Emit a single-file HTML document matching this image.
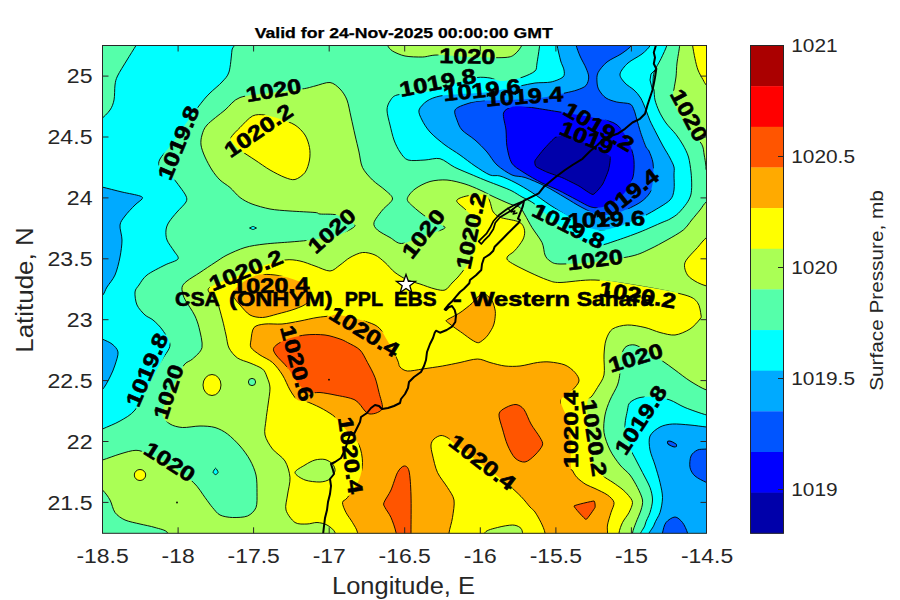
<!DOCTYPE html>
<html><head><meta charset="utf-8"><title>Surface Pressure</title>
<style>
html,body{margin:0;padding:0;background:#fff;}
body{width:900px;height:600px;overflow:hidden;font-family:"Liberation Sans",sans-serif;}
svg{display:block;font-family:"Liberation Sans",sans-serif;}
.cf path,.cf ellipse{stroke:#000;stroke-width:0.9;stroke-linejoin:round;fill:none;}
.lb text{font-weight:bold;font-size:21px;fill:#000;stroke:#000;stroke-width:0.6;}
.tk text{font-size:20px;fill:#262626;}
</style></head><body>
<svg width="900" height="600" viewBox="0 0 900 600">
<rect width="900" height="600" fill="#fff"/>
<defs><mask id="lm" maskUnits="userSpaceOnUse" x="0" y="0" width="900" height="600"><rect width="900" height="600" fill="#fff"/><rect transform="translate(179.0 143.0) rotate(-67.6)" x="-39.8" y="-10" width="79.5" height="20" fill="#000"/><rect transform="translate(273.5 90.8) rotate(-10)" x="-28.9" y="-10" width="57.8" height="20" fill="#000"/><rect transform="translate(258.8 131.0) rotate(-34.5)" x="-39.8" y="-10" width="79.5" height="20" fill="#000"/><rect transform="translate(467.3 56.8) rotate(1)" x="-28.9" y="-10" width="57.8" height="20" fill="#000"/><rect transform="translate(437.7 83.0) rotate(-11)" x="-39.8" y="-10" width="79.5" height="20" fill="#000"/><rect transform="translate(482.0 90.6) rotate(-6)" x="-39.8" y="-10" width="79.5" height="20" fill="#000"/><rect transform="translate(524.4 97.0) rotate(-4)" x="-39.8" y="-10" width="79.5" height="20" fill="#000"/><rect transform="translate(598.7 127.3) rotate(30.5)" x="-39.8" y="-10" width="79.5" height="20" fill="#000"/><rect transform="translate(586.5 138.3) rotate(22.4)" x="-28.9" y="-10" width="57.8" height="20" fill="#000"/><rect transform="translate(688.5 115.5) rotate(62)" x="-28.9" y="-10" width="57.8" height="20" fill="#000"/><rect transform="translate(626.0 197.5) rotate(-38.5)" x="-39.8" y="-10" width="79.5" height="20" fill="#000"/><rect transform="translate(606.4 220.0) rotate(-2)" x="-39.8" y="-10" width="79.5" height="20" fill="#000"/><rect transform="translate(568.2 226.5) rotate(26.5)" x="-39.8" y="-10" width="79.5" height="20" fill="#000"/><rect transform="translate(595.0 260.3) rotate(-7)" x="-28.9" y="-10" width="57.8" height="20" fill="#000"/><rect transform="translate(637.6 295.5) rotate(9.5)" x="-39.8" y="-10" width="79.5" height="20" fill="#000"/><rect transform="translate(332.2 231.2) rotate(-41.5)" x="-28.9" y="-10" width="57.8" height="20" fill="#000"/><rect transform="translate(423.8 234.2) rotate(-52)" x="-28.9" y="-10" width="57.8" height="20" fill="#000"/><rect transform="translate(471.5 231.0) rotate(-78)" x="-39.8" y="-10" width="79.5" height="20" fill="#000"/><rect transform="translate(246.1 270.8) rotate(-22)" x="-39.8" y="-10" width="79.5" height="20" fill="#000"/><rect transform="translate(270.8 286.0) rotate(-1)" x="-39.8" y="-10" width="79.5" height="20" fill="#000"/><rect transform="translate(364.2 332.3) rotate(31.5)" x="-39.8" y="-10" width="79.5" height="20" fill="#000"/><rect transform="translate(296.5 363.5) rotate(75)" x="-39.8" y="-10" width="79.5" height="20" fill="#000"/><rect transform="translate(147.5 370.0) rotate(-67)" x="-39.8" y="-10" width="79.5" height="20" fill="#000"/><rect transform="translate(169.0 392.0) rotate(-72)" x="-28.9" y="-10" width="57.8" height="20" fill="#000"/><rect transform="translate(169.3 462.3) rotate(32.5)" x="-28.9" y="-10" width="57.8" height="20" fill="#000"/><rect transform="translate(350.0 455.5) rotate(82)" x="-39.8" y="-10" width="79.5" height="20" fill="#000"/><rect transform="translate(482.1 462.8) rotate(37.3)" x="-39.8" y="-10" width="79.5" height="20" fill="#000"/><rect transform="translate(571.0 429.3) rotate(-90)" x="-39.8" y="-10" width="79.5" height="20" fill="#000"/><rect transform="translate(593.6 438.0) rotate(81.5)" x="-39.8" y="-10" width="79.5" height="20" fill="#000"/><rect transform="translate(641.2 420.3) rotate(-57)" x="-39.8" y="-10" width="79.5" height="20" fill="#000"/><rect transform="translate(635.7 358.3) rotate(-17)" x="-28.9" y="-10" width="57.8" height="20" fill="#000"/></mask><clipPath id="cp"><rect x="102.5" y="45.5" width="604" height="487.8"/></clipPath></defs>
<g clip-path="url(#cp)">
<rect x="100" y="40" width="612" height="500" fill="#55FFAA"/>
<g class="ff">
<path d="M142.0,36.0 C127.5,37.4 138.2,41.9 136.0,45.5 C133.8,49.1 129.8,55.4 127.0,60.0 C124.2,64.6 119.3,72.2 117.5,76.0 C115.7,79.8 115.5,81.4 115.0,85.0 C114.5,88.6 114.8,96.2 114.0,100.0 C113.2,103.8 112.1,107.0 110.0,110.0 C107.9,113.0 103.3,117.6 100.0,120.0 C96.7,122.4 89.8,78.6 88.0,126.0 C86.2,173.4 85.8,390.6 88.0,436.0 C90.2,481.4 97.7,431.2 102.5,429.0 C107.3,426.8 115.1,423.9 120.0,421.0 C124.9,418.1 130.7,415.4 135.0,410.0 C139.3,404.6 144.4,392.5 148.5,385.0 C152.6,377.5 158.8,366.0 162.0,360.0 C165.2,354.0 169.9,349.5 170.0,345.0 C170.1,340.5 165.1,333.8 162.5,330.0 C159.9,326.2 155.6,322.2 153.0,320.0 C150.4,317.8 147.4,317.2 145.0,315.0 C142.6,312.8 138.5,308.4 137.0,305.0 C135.5,301.6 134.7,295.0 135.0,292.0 C135.3,289.0 137.2,287.6 139.0,285.0 C140.8,282.4 143.1,278.0 147.0,275.0 C150.9,272.0 160.3,267.4 165.0,265.0 C169.7,262.6 176.7,261.1 178.0,259.0 C179.3,256.9 175.7,253.8 174.0,251.0 C172.3,248.2 168.2,243.2 167.0,240.0 C165.8,236.8 165.7,232.7 166.0,230.0 C166.3,227.3 167.3,224.7 169.0,222.0 C170.7,219.3 174.4,215.0 177.0,212.0 C179.6,209.0 184.7,204.4 186.0,202.0 C187.3,199.6 186.9,198.2 186.0,196.0 C185.1,193.8 182.1,189.8 180.0,187.0 C177.9,184.2 175.0,180.0 172.0,177.0 C169.0,174.0 161.8,169.7 160.0,167.0 C158.2,164.3 158.3,162.3 160.0,159.0 C161.7,155.7 166.9,150.6 171.0,145.0 C175.1,139.4 182.3,128.4 187.0,122.0 C191.7,115.5 198.6,106.3 202.0,102.0 C205.4,97.7 207.0,96.0 210.0,93.0 C213.0,90.0 219.2,85.2 222.0,82.0 C224.8,78.8 227.5,76.8 229.0,72.0 C230.5,67.2 231.4,55.4 232.0,50.0 C232.6,44.6 246.5,38.1 233.0,36.0 C219.5,33.9 156.6,34.6 142.0,36.0Z" fill="#00FFFF"/>
<path d="M90.0,185.0 C91.8,167.8 97.2,185.9 102.0,187.0 C106.8,188.1 116.3,190.7 122.0,192.0 C127.7,193.3 137.0,194.9 140.0,196.0 C143.0,197.1 142.8,197.7 142.0,199.0 C141.2,200.3 137.6,202.4 135.0,205.0 C132.4,207.6 127.2,213.0 125.0,216.0 C122.8,219.0 120.5,221.4 120.0,225.0 C119.5,228.6 122.0,235.2 122.0,240.0 C122.0,244.8 121.0,251.8 120.0,257.0 C119.0,262.2 117.0,270.5 115.0,275.0 C113.0,279.5 109.0,283.9 107.0,287.0 C105.0,290.1 104.5,293.8 102.0,296.0 C99.5,298.2 91.8,318.6 90.0,302.0 C88.2,285.4 88.2,202.2 90.0,185.0Z" fill="#00AAFF"/>
<path d="M90.0,335.0 C91.8,326.4 98.7,337.6 102.0,339.0 C105.3,340.4 109.6,342.1 112.0,344.0 C114.4,345.9 117.5,348.9 118.0,352.0 C118.5,355.1 116.2,361.2 115.0,365.0 C113.8,368.8 112.0,373.2 110.0,377.0 C108.0,380.8 105.0,387.1 102.0,390.0 C99.0,392.9 91.8,404.2 90.0,396.0 C88.2,387.8 88.2,343.6 90.0,335.0Z" fill="#00AAFF"/>
<path d="M540.0,36.0 C520.8,37.4 540.2,41.0 539.7,45.0 C539.2,49.0 537.7,59.1 537.0,63.0 C536.3,66.9 537.1,68.9 535.0,71.0 C532.9,73.1 526.6,75.7 523.0,77.0 C519.4,78.3 514.5,79.4 511.0,80.0 C507.6,80.6 503.1,81.3 500.0,81.0 C496.9,80.7 493.4,78.5 490.0,78.0 C486.6,77.5 481.5,76.9 477.0,77.5 C472.5,78.1 465.2,80.4 460.0,82.0 C454.8,83.6 448.0,86.3 442.0,88.0 C436.0,89.7 426.8,92.0 420.0,93.0 C413.2,94.0 401.5,93.8 397.0,95.0 C392.5,96.2 391.5,98.8 390.0,101.0 C388.5,103.2 387.0,106.4 387.0,110.0 C387.0,113.6 388.9,120.5 390.0,125.0 C391.1,129.5 392.5,135.9 394.0,140.0 C395.5,144.1 397.9,149.0 400.0,152.0 C402.1,155.0 404.2,158.8 408.0,160.0 C411.8,161.2 420.2,160.2 425.0,160.0 C429.8,159.8 435.5,157.6 440.0,158.7 C444.5,159.8 449.7,164.8 454.7,167.3 C459.7,169.8 468.5,173.2 473.3,175.3 C478.1,177.4 483.0,179.4 487.0,181.0 C491.0,182.6 496.2,184.5 500.0,186.0 C503.8,187.5 508.7,189.3 512.0,191.0 C515.3,192.7 519.3,195.5 522.0,197.0 C524.7,198.5 527.8,199.7 530.0,201.0 C532.2,202.3 533.2,202.8 537.0,206.0 C540.8,209.2 549.3,217.7 555.0,222.0 C560.7,226.3 571.0,232.2 575.0,235.0 C579.0,237.8 578.2,239.5 582.0,241.0 C585.8,242.5 595.0,245.0 600.0,245.0 C605.0,245.0 609.0,242.9 615.0,241.0 C621.0,239.1 633.0,234.8 640.0,232.0 C647.0,229.2 657.5,224.4 662.0,222.5 C666.5,220.6 667.6,220.4 670.0,219.0 C672.4,217.6 675.8,215.7 678.3,213.3 C680.8,210.9 684.8,206.0 686.7,203.3 C688.6,200.6 690.0,197.7 690.8,195.0 C691.5,192.3 691.7,188.4 691.7,185.0 C691.7,181.6 691.5,176.2 691.0,172.0 C690.5,167.8 689.7,161.1 688.5,157.0 C687.3,152.9 684.9,148.4 683.0,145.0 C681.1,141.6 678.5,137.8 676.0,134.5 C673.5,131.2 668.5,126.5 666.0,123.0 C663.5,119.5 660.6,114.5 659.0,111.0 C657.4,107.5 655.8,103.2 655.0,100.0 C654.2,96.8 654.3,92.0 654.0,90.0 C653.7,88.0 653.0,89.3 653.0,86.7 C653.0,84.1 652.8,76.9 654.0,72.7 C655.2,68.5 659.0,62.9 661.0,58.7 C663.0,54.5 666.0,48.4 667.0,45.0 C668.0,41.6 687.0,37.4 668.0,36.0 C649.0,34.6 559.2,34.6 540.0,36.0Z" fill="#00FFFF"/>
<path d="M556.0,36.0 C541.8,37.4 556.3,41.2 557.0,45.0 C557.7,48.8 559.7,57.2 560.7,61.0 C561.8,64.8 563.7,67.6 564.0,70.0 C564.3,72.4 565.0,75.2 563.0,77.0 C561.0,78.8 555.2,81.1 551.0,82.0 C546.8,82.9 539.6,82.4 535.0,83.0 C530.4,83.6 525.2,85.0 520.0,86.0 C514.8,87.0 506.0,89.0 500.0,90.0 C494.0,91.0 486.0,92.4 480.0,93.0 C474.0,93.6 466.0,93.5 460.0,94.0 C454.0,94.5 444.9,95.0 440.0,96.0 C435.1,97.0 430.1,98.9 427.0,101.0 C423.9,103.1 419.8,107.2 419.0,110.0 C418.2,112.8 420.4,116.7 422.0,120.0 C423.6,123.3 426.6,128.2 430.0,132.0 C433.4,135.8 440.5,141.6 445.0,145.0 C449.5,148.4 455.5,151.8 460.0,155.0 C464.5,158.2 470.5,163.0 475.0,166.0 C479.5,169.0 486.2,173.5 490.0,175.0 C493.8,176.5 496.2,174.9 500.0,176.0 C503.8,177.1 510.2,180.0 515.0,182.5 C519.8,185.0 526.8,189.1 532.0,192.5 C537.2,195.9 544.3,201.2 550.0,205.0 C555.7,208.8 565.2,214.5 570.0,217.5 C574.8,220.5 577.5,223.1 582.0,225.0 C586.5,226.9 594.3,229.8 600.0,230.0 C605.7,230.2 614.0,227.8 620.0,226.0 C626.0,224.2 634.8,220.4 640.0,218.0 C645.2,215.6 650.5,212.7 655.0,210.0 C659.5,207.3 667.1,203.0 670.0,200.0 C672.9,197.0 673.4,193.8 674.0,190.0 C674.6,186.2 674.0,178.4 674.0,175.0 C674.0,171.6 674.6,169.6 674.0,167.0 C673.4,164.4 671.6,161.2 670.0,158.0 C668.4,154.8 665.0,149.6 663.0,146.0 C661.0,142.4 658.7,137.8 656.7,134.0 C654.8,130.2 651.6,124.3 650.0,120.7 C648.4,117.1 647.4,113.4 646.0,110.0 C644.6,106.6 642.5,101.0 640.7,98.0 C638.9,95.0 636.4,92.2 634.0,90.0 C631.6,87.8 627.1,85.4 625.0,83.0 C622.9,80.6 619.5,77.0 620.0,74.0 C620.5,71.0 624.7,66.0 628.0,63.0 C631.3,60.0 638.6,56.7 642.0,54.0 C645.4,51.3 649.0,47.7 650.5,45.0 C652.0,42.3 666.2,37.4 652.0,36.0 C637.8,34.6 570.2,34.6 556.0,36.0Z" fill="#00AAFF"/>
<path d="M575.0,36.0 C566.3,37.4 575.2,42.0 576.0,45.0 C576.8,48.0 578.5,52.5 580.0,56.0 C581.5,59.5 584.7,64.8 586.0,68.0 C587.3,71.2 588.7,74.4 588.7,77.0 C588.7,79.6 587.8,83.5 586.0,85.5 C584.2,87.5 580.1,88.9 577.0,90.0 C573.9,91.1 570.5,91.8 565.0,93.0 C559.5,94.2 548.2,97.0 540.0,98.0 C531.8,99.0 519.0,99.5 510.0,100.0 C501.0,100.5 486.8,100.3 480.0,101.0 C473.2,101.7 468.8,103.2 465.0,104.5 C461.2,105.8 456.2,107.7 455.0,110.0 C453.8,112.3 455.9,117.0 457.0,120.0 C458.1,123.0 459.3,127.0 462.0,130.0 C464.7,133.0 471.2,136.7 475.0,140.0 C478.8,143.3 483.7,148.2 487.0,152.0 C490.3,155.8 493.2,161.6 497.0,165.0 C500.8,168.4 507.8,173.1 512.0,175.0 C516.2,176.9 520.0,175.8 525.0,177.5 C530.0,179.2 539.0,183.0 545.0,186.0 C551.0,189.0 559.5,194.3 565.0,197.5 C570.5,200.7 576.8,204.9 582.0,207.5 C587.2,210.1 594.3,214.3 600.0,215.0 C605.7,215.7 614.0,213.9 620.0,212.0 C626.0,210.1 635.5,205.4 640.0,202.5 C644.5,199.6 648.0,195.9 650.0,192.5 C652.0,189.1 652.5,184.4 653.0,180.0 C653.5,175.6 653.6,167.3 653.0,163.0 C652.4,158.7 650.0,153.4 649.0,151.0 C648.0,148.6 647.2,149.7 646.0,147.0 C644.8,144.3 642.1,136.9 640.7,132.7 C639.3,128.5 637.7,122.4 636.7,119.0 C635.7,115.6 635.0,112.2 634.0,110.0 C633.0,107.8 632.6,105.2 630.0,104.0 C627.4,102.8 620.3,102.9 616.7,102.0 C613.1,101.1 608.7,99.8 606.0,98.0 C603.3,96.2 600.4,92.4 599.0,90.0 C597.6,87.6 597.1,84.6 597.0,82.0 C596.9,79.4 596.5,75.7 598.0,72.7 C599.5,69.7 603.5,64.8 607.0,62.0 C610.5,59.2 617.2,56.5 621.0,54.0 C624.8,51.5 630.0,47.7 632.0,45.0 C634.0,42.3 642.5,37.4 634.0,36.0 C625.5,34.6 583.7,34.6 575.0,36.0Z" fill="#0055FF"/>
<path d="M503.5,113.0 C504.4,109.5 508.8,108.0 511.7,107.0 C514.6,106.0 519.5,106.3 523.0,106.5 C526.5,106.7 529.8,107.2 535.0,108.0 C540.2,108.8 549.3,110.3 558.0,111.7 C566.7,113.1 584.6,115.8 593.0,117.5 C601.4,119.2 609.4,120.7 614.0,123.0 C618.6,125.3 621.2,129.1 623.7,132.7 C626.2,136.3 629.2,142.5 630.7,146.7 C632.2,150.9 633.7,156.2 634.0,160.7 C634.3,165.2 634.2,172.5 633.0,177.0 C631.8,181.5 628.4,187.6 626.0,191.0 C623.6,194.4 620.2,197.6 616.7,200.0 C613.2,202.4 606.6,205.9 602.7,207.0 C598.8,208.1 594.9,208.1 591.0,207.0 C587.1,205.9 582.0,202.6 577.0,200.0 C572.0,197.4 563.2,192.6 558.0,190.0 C552.8,187.4 547.2,185.7 542.0,183.0 C536.8,180.3 527.5,175.0 523.0,172.0 C518.5,169.0 514.1,166.8 511.7,163.0 C509.3,159.2 507.9,151.6 507.0,146.7 C506.1,141.8 506.5,135.1 506.0,130.0 C505.5,124.9 502.6,116.5 503.5,113.0Z" fill="#0000FF"/>
<path d="M535.0,160.7 C535.6,159.3 542.3,150.9 544.0,149.0 C545.7,147.1 553.9,138.0 556.0,137.0 C558.1,136.0 567.3,135.3 570.0,136.0 C572.7,136.7 586.8,144.4 590.0,146.0 C593.2,147.6 608.2,154.1 609.7,156.0 C611.2,157.9 609.1,167.8 608.5,170.0 C607.9,172.2 603.9,182.0 602.7,184.0 C601.5,186.0 594.9,194.3 593.0,194.5 C591.1,194.7 581.4,187.3 579.0,186.0 C576.6,184.7 565.6,179.1 563.0,178.0 C560.4,176.9 548.9,172.9 546.7,172.0 C544.5,171.1 536.9,167.4 536.0,166.5 C535.1,165.6 534.4,162.1 535.0,160.7Z" fill="#0000AA"/>
<path d="M718.0,417.0 C716.3,397.9 711.5,416.4 706.5,415.0 C701.5,413.6 690.5,409.8 685.0,407.5 C679.5,405.2 674.5,401.6 670.0,400.0 C665.5,398.4 659.5,397.4 655.0,397.0 C650.5,396.6 643.8,396.7 640.0,397.5 C636.2,398.3 631.9,400.6 630.0,402.5 C628.1,404.4 628.2,406.2 627.5,410.0 C626.8,413.8 624.6,421.9 625.0,427.5 C625.4,433.1 628.4,442.6 630.0,447.5 C631.6,452.4 634.1,456.2 636.0,460.0 C637.9,463.8 640.4,468.4 642.5,472.5 C644.6,476.6 648.5,483.4 650.0,487.5 C651.5,491.6 652.5,496.2 652.5,500.0 C652.5,503.8 651.1,508.8 650.0,512.5 C648.9,516.2 645.9,520.6 645.0,525.0 C644.1,529.4 633.0,539.5 644.0,542.0 C655.0,544.5 706.9,560.8 718.0,542.0 C729.1,523.2 719.7,436.1 718.0,417.0Z" fill="#00FFFF"/>
<path d="M718.0,428.0 C716.3,410.8 710.7,427.4 706.5,427.0 C702.3,426.6 695.1,425.4 690.0,425.0 C684.9,424.6 677.0,423.7 672.5,424.0 C668.0,424.3 663.4,425.2 660.0,427.0 C656.6,428.8 651.5,432.6 650.0,436.0 C648.5,439.4 649.2,445.6 650.0,450.0 C650.8,454.4 653.5,460.1 655.0,465.0 C656.5,469.9 658.9,477.6 660.0,482.5 C661.1,487.4 662.5,493.0 662.5,497.5 C662.5,502.0 661.3,508.4 660.0,512.5 C658.7,516.6 655.4,520.6 654.0,525.0 C652.6,529.4 641.4,539.5 651.0,542.0 C660.6,544.5 708.0,559.1 718.0,542.0 C728.0,524.9 719.7,445.2 718.0,428.0Z" fill="#00AAFF"/>
<path d="M718.0,447.0 C716.3,441.3 709.6,448.6 706.5,449.0 C703.4,449.4 699.8,448.9 697.5,450.0 C695.2,451.1 692.1,453.4 691.0,456.0 C689.9,458.6 689.4,464.5 690.0,467.5 C690.6,470.5 692.5,473.8 695.0,476.0 C697.5,478.2 703.0,480.9 706.5,482.5 C710.0,484.1 716.3,492.3 718.0,487.0 C719.7,481.7 719.7,452.7 718.0,447.0Z" fill="#0055FF"/>
<path d="M662.0,542.0 C658.2,540.6 661.9,535.9 662.5,533.0 C663.1,530.1 664.1,524.9 666.0,522.5 C667.9,520.1 672.5,517.0 675.0,517.0 C677.5,517.0 680.6,520.1 682.5,522.5 C684.4,524.9 686.7,530.1 687.5,533.0 C688.3,535.9 691.8,540.6 688.0,542.0 C684.2,543.4 665.8,543.4 662.0,542.0Z" fill="#0055FF"/>
<ellipse cx="672.0" cy="444.0" rx="5.0" ry="2.0" fill="#0055FF" transform="rotate(25 672.0 444.0)"/>
<path d="M213.0,472.3 C213.0,471.7 215.1,468.2 215.6,468.2 C216.1,468.2 218.2,471.7 218.2,472.3 C218.2,472.9 216.1,474.6 215.6,474.6 C215.1,474.6 213.0,472.9 213.0,472.3Z" fill="#00FFFF"/>
<path d="M249.5,228.0 C249.5,228.0 253.0,226.3 253.0,226.3 C253.0,226.3 256.5,228.0 256.5,228.0 C256.5,228.0 253.0,229.7 253.0,229.7 C253.0,229.7 249.5,228.0 249.5,228.0Z" fill="#00FFFF"/>
<path d="M718.0,196.0 C719.7,224.2 719.7,360.9 718.0,390.0 C716.3,419.1 710.7,391.4 706.5,390.0 C702.3,388.6 694.7,384.0 690.0,381.0 C685.3,378.0 679.1,373.0 675.0,370.0 C670.9,367.0 666.5,363.7 662.5,361.0 C658.5,358.3 652.1,354.4 648.0,352.0 C643.9,349.6 638.5,345.7 635.0,345.0 C631.5,344.3 627.2,345.2 625.0,347.5 C622.8,349.8 620.8,356.2 620.0,360.0 C619.2,363.8 620.4,368.8 620.0,372.5 C619.6,376.2 619.0,380.9 617.5,385.0 C616.0,389.1 611.9,395.5 610.0,400.0 C608.1,404.5 605.9,410.1 605.0,415.0 C604.1,419.9 603.2,427.2 604.0,432.5 C604.8,437.8 607.6,445.1 610.0,450.0 C612.4,454.9 617.0,461.2 620.0,465.0 C623.0,468.8 627.4,471.6 630.0,475.0 C632.6,478.4 635.6,483.8 637.5,487.5 C639.4,491.2 642.0,496.6 642.5,500.0 C643.0,503.4 642.0,506.6 641.0,510.0 C640.0,513.4 637.3,519.0 636.0,522.5 C634.7,526.0 633.1,529.6 632.5,533.0 C631.9,536.4 701.8,543.2 632.0,545.0 C562.2,546.8 236.7,546.9 167.0,545.0 C97.3,543.1 169.3,535.1 167.5,532.5 C165.7,529.9 159.1,528.8 155.0,527.5 C150.9,526.2 144.5,525.1 140.0,524.0 C135.5,522.9 128.8,521.7 125.0,520.0 C121.2,518.3 117.2,515.5 115.0,512.5 C112.8,509.5 111.9,503.4 110.0,500.0 C108.1,496.6 105.8,493.3 102.5,490.0 C99.2,486.7 90.2,481.9 88.0,478.0 C85.8,474.1 85.8,466.7 88.0,464.0 C90.2,461.3 97.7,461.5 102.5,460.0 C107.3,458.5 115.0,455.5 120.0,454.0 C125.0,452.5 131.8,450.3 136.0,450.3 C140.2,450.3 142.9,451.8 148.0,454.0 C153.1,456.2 163.2,460.8 170.0,465.0 C176.8,469.2 188.1,477.4 193.3,482.3 C198.6,487.2 202.1,493.7 205.0,497.5 C207.9,501.3 210.2,504.9 212.5,507.5 C214.8,510.1 217.0,513.5 220.0,515.0 C223.0,516.5 228.4,517.4 232.5,517.5 C236.6,517.6 244.0,517.5 247.5,516.0 C251.0,514.5 254.6,511.0 256.0,507.5 C257.4,504.0 257.0,497.4 257.0,492.5 C257.0,487.6 257.1,479.9 256.0,475.0 C254.9,470.1 252.4,464.4 250.0,460.0 C247.6,455.6 243.4,449.9 240.0,446.0 C236.6,442.1 231.2,436.8 227.5,434.0 C223.8,431.2 219.1,428.7 215.0,427.5 C210.9,426.3 204.9,426.0 200.0,426.0 C195.1,426.0 187.0,427.8 182.5,427.5 C178.0,427.2 173.0,425.9 170.0,424.0 C167.0,422.1 163.1,418.6 162.5,415.0 C161.9,411.4 164.1,404.8 166.0,400.0 C167.9,395.2 172.3,388.2 175.0,383.0 C177.7,377.8 181.4,368.6 184.0,365.0 C186.6,361.4 189.8,361.6 192.5,359.0 C195.2,356.4 201.0,352.2 202.0,347.5 C203.0,342.8 200.1,332.2 199.0,327.5 C197.9,322.8 196.3,319.0 195.0,316.0 C193.7,313.0 191.7,310.3 190.0,307.5 C188.3,304.7 185.2,300.5 184.0,297.5 C182.8,294.5 181.6,290.0 182.0,287.5 C182.4,285.0 184.3,283.2 187.0,281.0 C189.7,278.8 195.8,275.3 200.0,272.5 C204.2,269.7 210.9,265.1 215.0,262.5 C219.1,259.9 222.5,257.2 227.0,255.0 C231.5,252.8 239.3,249.2 245.0,247.5 C250.7,245.8 258.2,244.8 265.0,244.0 C271.8,243.2 283.7,242.5 290.0,242.0 C296.3,241.5 303.2,240.9 307.0,240.5 C310.8,240.1 312.1,239.3 315.0,239.0 C317.9,238.7 322.7,238.9 326.0,238.5 C329.3,238.1 332.8,237.7 337.0,236.0 C341.2,234.3 351.4,229.2 353.7,227.3 C356.0,225.4 355.0,224.8 352.5,223.0 C350.0,221.2 341.9,216.3 337.0,215.0 C332.1,213.7 323.3,214.4 320.0,214.0 C316.7,213.6 319.5,212.9 315.0,212.5 C310.5,212.1 296.8,211.5 290.0,211.0 C283.2,210.5 275.7,210.1 270.0,209.0 C264.3,207.9 256.5,205.7 252.0,204.0 C247.5,202.3 243.3,200.0 240.0,197.5 C236.7,195.0 233.0,190.1 230.0,187.5 C227.0,184.9 222.7,182.6 220.0,180.0 C217.3,177.4 214.2,173.4 212.0,170.0 C209.8,166.6 206.7,160.8 205.0,157.0 C203.3,153.2 201.4,148.3 201.0,145.0 C200.6,141.7 201.1,138.0 202.0,135.0 C202.9,132.0 203.6,128.8 207.0,125.0 C210.4,121.2 220.1,114.1 225.0,110.0 C229.9,105.9 233.2,100.0 240.0,97.5 C246.8,95.0 260.7,94.3 270.0,93.0 C279.3,91.7 295.2,90.0 302.0,89.0 C308.8,88.0 310.8,87.0 315.0,86.0 C319.2,85.0 326.2,82.0 330.0,82.5 C333.8,83.0 337.4,86.4 340.0,89.0 C342.6,91.6 345.4,95.8 347.0,100.0 C348.6,104.2 349.8,111.8 351.0,117.0 C352.2,122.2 353.8,129.8 355.0,135.0 C356.2,140.2 357.9,147.1 359.0,152.0 C360.1,156.9 360.5,163.3 362.5,167.5 C364.5,171.7 369.1,176.6 372.5,180.0 C375.9,183.4 382.0,187.2 385.0,190.0 C388.0,192.8 392.9,196.0 392.5,199.0 C392.1,202.0 385.3,206.5 382.5,210.0 C379.7,213.5 374.8,219.5 374.0,222.5 C373.2,225.5 375.1,227.8 377.5,230.0 C379.9,232.2 386.4,235.5 390.0,237.5 C393.6,239.5 396.9,243.7 401.7,243.5 C406.5,243.3 415.7,238.7 422.0,236.5 C428.3,234.3 440.3,230.7 443.4,229.0 C446.5,227.3 445.0,227.2 442.5,225.5 C440.0,223.8 431.5,220.4 427.0,217.5 C422.5,214.6 415.5,208.8 412.5,206.0 C409.5,203.2 406.9,201.2 407.3,198.7 C407.7,196.1 411.6,191.6 415.0,189.0 C418.4,186.4 425.2,182.8 430.0,181.5 C434.8,180.2 441.8,179.6 447.0,180.0 C452.2,180.4 460.1,182.5 465.0,184.0 C469.9,185.5 475.9,188.2 480.0,190.0 C484.1,191.8 487.5,193.9 492.0,196.0 C496.5,198.1 505.8,202.3 510.0,204.0 C514.2,205.7 517.8,205.8 520.0,207.5 C522.2,209.2 523.2,212.0 525.0,215.0 C526.8,218.0 529.5,223.4 532.0,227.5 C534.5,231.6 540.0,238.4 542.0,242.5 C544.0,246.6 543.8,252.2 545.0,255.0 C546.2,257.8 547.8,259.6 550.0,261.0 C552.2,262.4 553.2,263.9 560.0,264.0 C566.8,264.1 584.2,263.2 595.0,262.0 C605.8,260.8 623.8,257.9 632.0,256.0 C640.2,254.1 644.8,251.4 650.0,249.0 C655.2,246.6 662.0,242.8 667.0,240.0 C672.0,237.2 679.6,233.0 683.3,230.0 C687.0,227.0 689.2,223.0 691.7,220.0 C694.2,217.0 697.8,212.7 700.0,210.0 C702.2,207.3 703.8,203.8 706.5,201.7 C709.2,199.6 716.3,167.8 718.0,196.0Z" fill="#AAFF55"/>
<path d="M387.0,36.0 C366.7,37.4 386.7,42.8 387.5,45.0 C388.3,47.2 389.9,49.4 392.5,51.0 C395.1,52.6 400.5,55.1 405.0,56.0 C409.5,56.9 417.6,57.1 422.5,57.0 C427.4,56.9 430.4,55.0 437.5,55.0 C444.6,55.0 459.9,56.6 470.0,57.0 C480.1,57.4 498.2,58.0 505.0,57.5 C511.8,57.0 512.5,55.9 515.0,54.0 C517.5,52.1 520.8,47.7 522.0,45.0 C523.2,42.3 543.2,37.4 523.0,36.0 C502.8,34.6 407.3,34.6 387.0,36.0Z" fill="#AAFF55"/>
<path d="M679.0,36.0 C673.3,37.4 680.0,41.0 679.7,45.0 C679.4,49.0 677.6,58.2 677.0,63.0 C676.4,67.8 676.5,73.1 676.0,77.0 C675.5,80.9 674.5,85.5 674.0,89.0 C673.5,92.5 672.1,96.1 673.0,100.0 C673.9,103.9 677.5,110.5 680.0,115.0 C682.5,119.5 686.7,125.6 690.0,130.0 C693.3,134.4 699.6,140.4 701.7,144.2 C703.8,147.9 703.6,151.9 704.2,155.0 C704.8,158.1 705.5,162.7 705.8,165.0 C706.1,167.3 705.6,168.8 706.5,170.5 C707.4,172.2 710.3,175.2 712.0,176.0 C713.7,176.8 717.1,197.0 718.0,176.0 C718.9,155.0 723.9,57.0 718.0,36.0 C712.1,15.0 684.7,34.6 679.0,36.0Z" fill="#AAFF55"/>
<ellipse cx="252.0" cy="382.0" rx="3.6" ry="3.6" fill="#55FFAA" transform="rotate(0 252.0 382.0)"/>
<path d="M231.0,137.5 C232.1,135.2 236.8,130.7 240.0,127.5 C243.2,124.3 248.8,117.9 252.5,116.0 C256.2,114.1 260.9,114.5 265.0,115.0 C269.1,115.5 275.5,117.5 280.0,119.0 C284.5,120.5 291.2,122.6 295.0,125.0 C298.8,127.4 302.8,131.6 305.0,135.0 C307.2,138.4 308.8,143.8 309.5,147.5 C310.2,151.2 310.2,156.2 309.5,160.0 C308.8,163.8 307.2,169.6 305.0,172.5 C302.8,175.4 298.0,178.8 295.0,179.5 C292.0,180.2 288.8,178.9 285.0,177.5 C281.2,176.1 274.5,172.6 270.0,170.0 C265.5,167.4 259.5,163.0 255.0,160.0 C250.5,157.0 243.4,152.6 240.0,150.0 C236.6,147.4 233.8,144.4 232.5,142.5 C231.2,140.6 229.9,139.8 231.0,137.5Z" fill="#FFFF00"/>
<path d="M692.0,36.0 C688.2,37.4 692.0,41.6 692.5,45.0 C693.0,48.4 694.2,55.0 695.0,58.7 C695.8,62.5 696.8,66.8 698.0,70.0 C699.2,73.2 701.7,77.4 703.0,79.7 C704.3,82.0 704.5,83.2 706.7,85.5 C709.0,87.8 716.3,102.4 718.0,95.0 C719.7,87.6 721.9,44.9 718.0,36.0 C714.1,27.1 695.8,34.6 692.0,36.0Z" fill="#FFFF00"/>
<path d="M718.0,230.0 C716.3,222.3 709.6,234.9 706.5,237.5 C703.4,240.1 700.7,243.8 697.5,247.5 C694.3,251.2 686.5,258.4 685.0,262.5 C683.5,266.6 685.6,272.0 687.5,275.0 C689.4,278.0 694.6,280.9 697.5,282.5 C700.4,284.1 703.4,285.0 706.5,286.0 C709.6,287.0 716.3,297.4 718.0,289.0 C719.7,280.6 719.7,237.7 718.0,230.0Z" fill="#FFFF00"/>
<ellipse cx="212.0" cy="385.0" rx="9.0" ry="10.5" fill="#FFFF00" transform="rotate(0 212.0 385.0)"/>
<ellipse cx="140.0" cy="475.0" rx="5.7" ry="5.5" fill="#FFFF00" transform="rotate(0 140.0 475.0)"/>
<path d="M335.0,545.0 C292.4,543.1 336.2,535.5 335.0,532.5 C333.8,529.5 329.7,526.5 327.0,525.0 C324.3,523.5 320.0,522.6 317.0,522.5 C314.0,522.4 310.3,524.0 307.0,524.0 C303.7,524.0 298.1,524.6 295.0,522.5 C291.9,520.4 287.1,514.1 286.0,510.0 C284.9,505.9 286.9,499.9 287.5,495.0 C288.1,490.1 290.4,482.6 290.0,477.5 C289.6,472.4 287.6,465.3 285.0,461.0 C282.4,456.7 275.5,452.9 272.5,449.0 C269.5,445.1 266.0,439.4 265.0,435.0 C264.0,430.6 265.6,424.5 266.0,420.0 C266.4,415.5 267.4,409.8 268.0,405.0 C268.6,400.2 270.1,392.2 270.0,388.0 C269.9,383.8 268.1,379.9 267.0,377.0 C265.9,374.1 265.1,371.1 262.5,369.0 C259.9,366.9 253.8,364.6 250.0,363.0 C246.2,361.4 240.7,360.2 237.5,358.0 C234.3,355.8 230.7,351.4 229.0,348.0 C227.3,344.6 227.0,339.2 226.0,335.0 C225.0,330.8 223.8,324.8 222.5,320.0 C221.2,315.2 219.2,306.7 217.5,303.0 C215.8,299.3 212.8,297.7 211.5,295.5 C210.2,293.3 206.9,290.6 208.5,288.5 C210.1,286.4 216.7,283.8 222.0,281.5 C227.3,279.2 238.0,275.8 244.0,273.5 C250.0,271.2 255.8,268.0 262.0,266.0 C268.1,264.0 279.3,260.8 285.0,260.0 C290.7,259.2 295.5,260.1 300.0,261.0 C304.5,261.9 310.5,264.5 315.0,266.0 C319.5,267.5 326.2,271.1 330.0,271.0 C333.8,270.9 337.0,267.0 340.0,265.0 C343.0,263.0 346.6,259.4 350.0,257.5 C353.4,255.6 358.8,252.9 362.5,252.5 C366.2,252.1 371.6,253.5 375.0,255.0 C378.4,256.5 382.0,259.9 385.0,262.5 C388.0,265.1 391.6,269.9 395.0,272.5 C398.4,275.1 403.8,278.3 407.5,280.0 C411.2,281.7 415.9,282.6 420.0,284.0 C424.1,285.4 431.2,288.1 435.0,289.0 C438.8,289.9 442.4,290.9 445.0,290.0 C447.6,289.1 450.1,284.9 452.0,283.0 C453.9,281.1 456.1,279.2 458.0,277.0 C459.9,274.8 462.9,271.1 465.0,268.3 C467.1,265.5 470.1,262.1 471.7,258.3 C473.3,254.5 475.0,246.5 476.0,243.0 C477.0,239.5 478.3,238.3 478.3,235.0 C478.3,231.7 477.6,224.6 475.8,220.8 C474.0,217.1 468.9,213.0 466.0,210.0 C463.1,207.0 456.6,202.9 456.7,200.8 C456.8,198.7 462.6,196.9 466.7,196.0 C470.8,195.1 480.6,194.1 484.0,194.7 C487.4,195.3 488.2,198.2 489.3,200.0 C490.4,201.8 490.7,204.9 491.3,206.7 C491.9,208.5 492.0,210.4 493.3,212.0 C494.6,213.6 496.4,215.9 500.0,217.3 C503.6,218.7 513.9,220.1 517.3,221.3 C520.7,222.5 521.6,223.7 522.7,225.3 C523.8,226.9 524.7,229.8 524.7,232.0 C524.7,234.2 524.2,237.2 522.7,240.0 C521.2,242.8 516.9,248.3 514.7,250.7 C512.5,253.1 509.1,254.6 508.0,256.0 C506.9,257.4 506.4,258.6 507.5,260.0 C508.6,261.4 511.6,263.1 515.0,265.0 C518.4,266.9 525.1,270.2 530.0,272.5 C534.9,274.8 543.0,278.5 547.5,280.0 C552.0,281.5 552.9,282.5 560.0,282.5 C567.1,282.5 583.0,279.5 595.0,280.0 C607.0,280.5 626.5,283.8 640.0,286.0 C653.5,288.2 676.4,292.5 685.0,295.0 C693.6,297.5 695.1,299.5 697.5,302.5 C699.9,305.5 700.6,312.5 701.0,315.0 C701.4,317.5 701.6,316.9 700.0,319.0 C698.4,321.1 693.8,326.6 690.0,329.0 C686.2,331.4 679.5,334.5 675.0,335.0 C670.5,335.5 664.5,333.6 660.0,332.5 C655.5,331.4 649.9,328.6 645.0,327.5 C640.1,326.4 632.4,324.8 627.5,325.0 C622.6,325.2 615.7,326.8 612.5,329.0 C609.3,331.2 607.3,336.1 606.0,340.0 C604.7,343.9 604.3,349.8 604.0,355.0 C603.7,360.2 605.0,370.1 604.0,375.0 C603.0,379.9 599.3,384.4 597.5,387.5 C595.7,390.6 593.5,394.0 592.0,396.0 C590.5,398.0 588.4,397.9 587.6,401.0 C586.8,404.1 586.6,411.1 586.7,417.0 C586.8,422.9 587.6,433.2 588.5,440.0 C589.4,446.8 591.0,457.2 593.0,462.5 C595.0,467.8 599.0,472.0 602.0,475.0 C605.0,478.0 610.0,480.4 613.0,482.5 C616.0,484.6 619.7,487.1 622.0,489.0 C624.3,490.9 626.9,493.5 628.5,495.5 C630.1,497.5 632.4,499.9 632.5,502.5 C632.6,505.1 630.5,509.5 629.0,512.5 C627.5,515.5 624.0,519.4 622.5,522.5 C621.0,525.6 619.5,529.6 619.0,533.0 C618.5,536.4 661.6,543.2 619.0,545.0 C576.4,546.8 377.6,546.9 335.0,545.0Z" fill="#FFFF00"/>
<path d="M295.0,472.5 C295.0,470.2 302.0,466.9 305.0,465.0 C308.0,463.1 312.0,460.8 315.0,460.0 C318.0,459.2 322.4,458.9 325.0,459.5 C327.6,460.1 331.0,462.3 332.5,464.0 C334.0,465.7 335.4,468.8 335.0,471.0 C334.6,473.2 332.2,477.4 330.0,479.0 C327.8,480.6 323.8,481.9 320.0,482.0 C316.2,482.1 308.8,481.4 305.0,480.0 C301.2,478.6 295.0,474.8 295.0,472.5Z" fill="#AAFF55"/>
<path d="M232.5,292.5 C233.8,290.2 238.8,285.1 242.5,282.5 C246.2,279.9 252.6,276.1 257.5,275.0 C262.4,273.9 269.8,274.4 275.0,275.0 C280.2,275.6 288.0,277.6 292.5,279.0 C297.0,280.4 302.4,282.4 305.0,284.0 C307.6,285.6 309.6,287.2 310.0,290.0 C310.4,292.8 309.8,299.6 307.5,302.5 C305.2,305.4 299.5,307.3 295.0,309.0 C290.5,310.7 282.4,312.7 277.5,314.0 C272.6,315.3 266.6,317.4 262.5,317.5 C258.4,317.6 253.4,316.9 250.0,315.0 C246.6,313.1 242.4,307.6 240.0,305.0 C237.6,302.4 235.1,299.4 234.0,297.5 C232.9,295.6 231.2,294.8 232.5,292.5Z" fill="#FFAA00"/>
<path d="M254.0,327.5 C256.1,325.1 260.8,324.5 265.0,324.0 C269.2,323.5 276.8,324.4 282.0,324.0 C287.2,323.6 294.8,322.0 300.0,321.0 C305.2,320.0 312.5,318.2 317.0,317.5 C321.5,316.8 326.6,316.4 330.0,316.0 C333.4,315.6 333.2,313.6 340.0,315.0 C346.8,316.4 367.9,321.2 375.0,325.0 C382.1,328.8 383.6,334.8 387.0,340.0 C390.4,345.2 395.6,355.9 397.5,360.0 C399.4,364.1 398.5,365.4 400.0,367.0 C401.5,368.6 404.1,370.7 407.5,371.0 C410.9,371.3 417.2,369.8 422.5,369.0 C427.8,368.2 436.9,367.0 442.5,366.0 C448.1,365.0 454.8,363.6 460.0,362.5 C465.2,361.4 473.0,359.0 477.5,359.0 C482.0,359.0 485.9,361.4 490.0,362.5 C494.1,363.6 500.5,365.5 505.0,366.0 C509.5,366.5 515.1,366.5 520.0,366.0 C524.9,365.5 533.0,363.1 537.5,362.5 C542.0,361.9 545.9,361.6 550.0,362.0 C554.1,362.4 561.2,363.4 565.0,365.0 C568.8,366.6 572.9,370.1 575.0,372.5 C577.1,374.9 579.4,378.4 579.0,381.0 C578.6,383.6 574.9,387.6 572.5,390.0 C570.1,392.4 564.7,395.1 563.0,397.0 C561.3,398.9 560.5,400.3 561.0,403.0 C561.5,405.7 564.6,411.6 566.0,415.0 C567.4,418.4 569.5,418.4 570.2,426.0 C571.0,433.6 570.7,459.3 571.0,466.0 C571.3,472.7 571.6,468.8 572.5,470.5 C573.4,472.2 575.0,475.4 577.0,477.5 C579.0,479.6 583.3,482.9 586.0,484.5 C588.7,486.1 591.8,486.9 595.0,488.5 C598.2,490.1 604.6,492.9 607.5,495.0 C610.4,497.1 613.5,499.9 614.0,502.5 C614.5,505.1 612.0,509.1 611.0,512.5 C610.0,515.9 608.0,521.9 607.5,525.0 C607.0,528.1 607.6,530.0 607.5,533.0 C607.4,536.0 644.6,543.2 607.0,545.0 C569.4,546.8 394.4,546.9 357.0,545.0 C319.6,543.1 358.2,535.9 357.5,532.5 C356.8,529.1 354.2,525.5 352.5,522.5 C350.8,519.5 347.5,515.5 346.0,512.5 C344.5,509.5 342.3,504.8 342.5,502.5 C342.7,500.2 345.0,500.9 347.5,497.5 C350.0,494.1 356.8,485.2 359.0,480.0 C361.2,474.8 362.5,467.8 362.5,462.5 C362.5,457.2 361.2,449.6 359.0,445.0 C356.8,440.4 351.2,435.8 348.0,432.0 C344.8,428.2 339.8,422.6 337.5,420.0 C335.2,417.4 335.1,416.9 332.5,415.0 C329.9,413.1 324.1,409.6 320.0,407.5 C315.9,405.4 308.4,402.1 305.0,401.0 C301.6,399.9 299.8,401.6 297.5,400.0 C295.2,398.4 292.2,393.8 290.0,390.0 C287.8,386.2 285.1,379.1 282.5,375.0 C279.9,370.9 275.9,365.5 272.5,362.5 C269.1,359.5 263.2,357.2 260.0,355.0 C256.8,352.8 252.3,349.8 251.0,347.5 C249.7,345.2 250.6,343.0 251.0,340.0 C251.4,337.0 251.9,329.9 254.0,327.5Z" fill="#FFAA00"/>
<path d="M446.7,320.0 C448.2,318.9 457.0,314.7 460.0,312.7 C463.0,310.7 469.3,305.7 472.0,303.3 C474.7,300.9 480.3,293.3 482.7,293.0 C485.1,292.7 490.5,298.5 492.0,300.7 C493.5,302.9 495.0,308.9 495.3,311.3 C495.6,313.7 495.0,318.8 494.7,320.7 C494.4,322.6 493.7,325.4 492.7,327.3 C491.7,329.2 488.4,334.9 486.7,336.7 C485.0,338.5 480.5,342.3 478.7,342.7 C476.9,343.1 473.9,341.1 472.0,340.0 C470.1,338.9 464.9,334.9 462.7,333.3 C460.5,331.7 455.1,328.1 453.3,326.7 C451.5,325.3 448.1,322.8 447.3,322.0 C446.5,321.2 445.2,321.1 446.7,320.0Z" fill="#FFAA00"/>
<path d="M449.0,545.0 C434.6,543.2 448.5,537.1 449.0,533.0 C449.5,528.9 451.8,522.5 452.5,517.5 C453.2,512.5 454.8,504.5 454.0,500.0 C453.2,495.5 450.0,491.6 447.5,487.5 C445.0,483.4 439.8,477.4 437.5,472.5 C435.2,467.6 433.5,459.1 432.5,455.0 C431.5,450.9 430.8,447.4 431.0,445.0 C431.2,442.6 432.5,440.4 434.0,439.0 C435.5,437.6 438.9,435.6 441.0,435.5 C443.1,435.4 445.9,436.7 448.0,438.0 C450.1,439.3 450.1,440.1 455.0,444.0 C459.9,447.9 473.2,457.8 481.0,463.8 C488.8,469.8 501.0,478.8 507.0,483.7 C513.0,488.6 517.5,493.0 521.0,496.5 C524.5,500.0 527.9,504.7 530.0,507.0 C532.1,509.3 533.4,509.7 535.0,512.0 C536.6,514.3 539.5,519.4 541.0,522.5 C542.5,525.6 544.4,529.6 545.0,533.0 C545.6,536.4 559.4,543.2 545.0,545.0 C530.6,546.8 463.4,546.8 449.0,545.0Z" fill="#FFFF00"/>
<path d="M485.0,545.0 C479.3,543.1 483.1,535.1 485.0,532.5 C486.9,529.9 493.4,528.6 497.5,527.5 C501.6,526.4 509.1,525.0 512.5,525.0 C515.9,525.0 518.5,526.4 520.0,527.5 C521.5,528.6 522.0,529.9 522.5,532.5 C523.0,535.1 528.6,543.1 523.0,545.0 C517.4,546.9 490.7,546.9 485.0,545.0Z" fill="#AAFF55"/>
<path d="M274.0,347.5 C275.4,345.2 280.4,341.9 285.0,340.0 C289.6,338.1 299.0,335.8 305.0,335.0 C311.0,334.2 319.8,334.4 325.0,335.0 C330.2,335.6 336.6,337.9 340.0,339.0 C343.4,340.1 344.5,340.9 347.5,342.5 C350.5,344.1 357.0,347.0 360.0,350.0 C363.0,353.0 365.2,358.4 367.5,362.5 C369.8,366.6 373.3,373.0 375.0,377.5 C376.7,382.0 377.9,388.0 379.0,392.5 C380.1,397.0 382.7,404.5 382.5,407.5 C382.3,410.5 379.4,411.5 377.5,412.5 C375.6,413.5 371.9,414.2 370.0,414.0 C368.1,413.8 367.2,413.1 365.0,411.0 C362.8,408.9 359.5,402.4 355.0,400.0 C350.5,397.6 340.2,396.1 335.0,395.0 C329.8,393.9 324.1,392.9 320.0,392.5 C315.9,392.1 310.9,394.0 307.5,392.5 C304.1,391.0 300.5,386.2 297.5,382.5 C294.5,378.8 290.7,371.6 287.5,367.5 C284.3,363.4 278.0,358.0 276.0,355.0 C274.0,352.0 272.6,349.8 274.0,347.5Z" fill="#FF5500"/>
<path d="M499.0,414.0 C499.5,410.8 503.4,408.9 506.0,407.5 C508.6,406.1 513.3,404.2 516.0,404.5 C518.7,404.8 521.8,406.6 524.0,409.5 C526.2,412.4 528.6,419.8 531.0,424.0 C533.4,428.2 538.3,434.4 540.0,437.5 C541.7,440.6 543.2,442.4 542.5,445.0 C541.8,447.6 537.6,452.4 535.0,455.0 C532.4,457.6 528.0,461.6 525.0,462.0 C522.0,462.4 517.6,460.6 515.0,458.0 C512.4,455.4 509.4,449.4 507.5,445.0 C505.6,440.6 503.8,433.6 502.5,429.0 C501.2,424.4 498.5,417.2 499.0,414.0Z" fill="#FF5500"/>
<path d="M384.0,502.5 C384.9,499.9 389.0,494.5 391.0,490.0 C393.0,485.5 395.6,476.1 397.5,472.5 C399.4,468.9 402.3,466.2 404.0,466.0 C405.7,465.8 407.9,466.6 409.0,471.0 C410.1,475.4 410.7,485.8 411.0,495.0 C411.3,504.2 411.0,525.0 411.0,532.5 C411.0,540.0 413.2,543.1 411.0,545.0 C408.8,546.9 398.2,546.9 396.0,545.0 C393.8,543.1 396.8,536.6 396.0,532.5 C395.2,528.4 392.6,521.2 391.0,517.5 C389.4,513.8 386.1,509.8 385.0,507.5 C383.9,505.2 383.1,505.1 384.0,502.5Z" fill="#FF5500"/>
<path d="M574.0,506.0 C574.4,505.1 593.0,500.9 594.0,501.0 C595.0,501.1 595.4,506.6 595.0,507.5 C594.6,508.4 587.0,519.6 586.0,519.5 C585.0,519.4 573.6,506.9 574.0,506.0Z" fill="#FF5500"/>
</g>
<g class="cf" mask="url(#lm)">
<path d="M142.0,36.0 C127.5,37.4 138.2,41.9 136.0,45.5 C133.8,49.1 129.8,55.4 127.0,60.0 C124.2,64.6 119.3,72.2 117.5,76.0 C115.7,79.8 115.5,81.4 115.0,85.0 C114.5,88.6 114.8,96.2 114.0,100.0 C113.2,103.8 112.1,107.0 110.0,110.0 C107.9,113.0 103.3,117.6 100.0,120.0 C96.7,122.4 89.8,78.6 88.0,126.0 C86.2,173.4 85.8,390.6 88.0,436.0 C90.2,481.4 97.7,431.2 102.5,429.0 C107.3,426.8 115.1,423.9 120.0,421.0 C124.9,418.1 130.7,415.4 135.0,410.0 C139.3,404.6 144.4,392.5 148.5,385.0 C152.6,377.5 158.8,366.0 162.0,360.0 C165.2,354.0 169.9,349.5 170.0,345.0 C170.1,340.5 165.1,333.8 162.5,330.0 C159.9,326.2 155.6,322.2 153.0,320.0 C150.4,317.8 147.4,317.2 145.0,315.0 C142.6,312.8 138.5,308.4 137.0,305.0 C135.5,301.6 134.7,295.0 135.0,292.0 C135.3,289.0 137.2,287.6 139.0,285.0 C140.8,282.4 143.1,278.0 147.0,275.0 C150.9,272.0 160.3,267.4 165.0,265.0 C169.7,262.6 176.7,261.1 178.0,259.0 C179.3,256.9 175.7,253.8 174.0,251.0 C172.3,248.2 168.2,243.2 167.0,240.0 C165.8,236.8 165.7,232.7 166.0,230.0 C166.3,227.3 167.3,224.7 169.0,222.0 C170.7,219.3 174.4,215.0 177.0,212.0 C179.6,209.0 184.7,204.4 186.0,202.0 C187.3,199.6 186.9,198.2 186.0,196.0 C185.1,193.8 182.1,189.8 180.0,187.0 C177.9,184.2 175.0,180.0 172.0,177.0 C169.0,174.0 161.8,169.7 160.0,167.0 C158.2,164.3 158.3,162.3 160.0,159.0 C161.7,155.7 166.9,150.6 171.0,145.0 C175.1,139.4 182.3,128.4 187.0,122.0 C191.7,115.5 198.6,106.3 202.0,102.0 C205.4,97.7 207.0,96.0 210.0,93.0 C213.0,90.0 219.2,85.2 222.0,82.0 C224.8,78.8 227.5,76.8 229.0,72.0 C230.5,67.2 231.4,55.4 232.0,50.0 C232.6,44.6 246.5,38.1 233.0,36.0 C219.5,33.9 156.6,34.6 142.0,36.0Z" fill="#00FFFF"/>
<path d="M90.0,185.0 C91.8,167.8 97.2,185.9 102.0,187.0 C106.8,188.1 116.3,190.7 122.0,192.0 C127.7,193.3 137.0,194.9 140.0,196.0 C143.0,197.1 142.8,197.7 142.0,199.0 C141.2,200.3 137.6,202.4 135.0,205.0 C132.4,207.6 127.2,213.0 125.0,216.0 C122.8,219.0 120.5,221.4 120.0,225.0 C119.5,228.6 122.0,235.2 122.0,240.0 C122.0,244.8 121.0,251.8 120.0,257.0 C119.0,262.2 117.0,270.5 115.0,275.0 C113.0,279.5 109.0,283.9 107.0,287.0 C105.0,290.1 104.5,293.8 102.0,296.0 C99.5,298.2 91.8,318.6 90.0,302.0 C88.2,285.4 88.2,202.2 90.0,185.0Z" fill="#00AAFF"/>
<path d="M90.0,335.0 C91.8,326.4 98.7,337.6 102.0,339.0 C105.3,340.4 109.6,342.1 112.0,344.0 C114.4,345.9 117.5,348.9 118.0,352.0 C118.5,355.1 116.2,361.2 115.0,365.0 C113.8,368.8 112.0,373.2 110.0,377.0 C108.0,380.8 105.0,387.1 102.0,390.0 C99.0,392.9 91.8,404.2 90.0,396.0 C88.2,387.8 88.2,343.6 90.0,335.0Z" fill="#00AAFF"/>
<path d="M540.0,36.0 C520.8,37.4 540.2,41.0 539.7,45.0 C539.2,49.0 537.7,59.1 537.0,63.0 C536.3,66.9 537.1,68.9 535.0,71.0 C532.9,73.1 526.6,75.7 523.0,77.0 C519.4,78.3 514.5,79.4 511.0,80.0 C507.6,80.6 503.1,81.3 500.0,81.0 C496.9,80.7 493.4,78.5 490.0,78.0 C486.6,77.5 481.5,76.9 477.0,77.5 C472.5,78.1 465.2,80.4 460.0,82.0 C454.8,83.6 448.0,86.3 442.0,88.0 C436.0,89.7 426.8,92.0 420.0,93.0 C413.2,94.0 401.5,93.8 397.0,95.0 C392.5,96.2 391.5,98.8 390.0,101.0 C388.5,103.2 387.0,106.4 387.0,110.0 C387.0,113.6 388.9,120.5 390.0,125.0 C391.1,129.5 392.5,135.9 394.0,140.0 C395.5,144.1 397.9,149.0 400.0,152.0 C402.1,155.0 404.2,158.8 408.0,160.0 C411.8,161.2 420.2,160.2 425.0,160.0 C429.8,159.8 435.5,157.6 440.0,158.7 C444.5,159.8 449.7,164.8 454.7,167.3 C459.7,169.8 468.5,173.2 473.3,175.3 C478.1,177.4 483.0,179.4 487.0,181.0 C491.0,182.6 496.2,184.5 500.0,186.0 C503.8,187.5 508.7,189.3 512.0,191.0 C515.3,192.7 519.3,195.5 522.0,197.0 C524.7,198.5 527.8,199.7 530.0,201.0 C532.2,202.3 533.2,202.8 537.0,206.0 C540.8,209.2 549.3,217.7 555.0,222.0 C560.7,226.3 571.0,232.2 575.0,235.0 C579.0,237.8 578.2,239.5 582.0,241.0 C585.8,242.5 595.0,245.0 600.0,245.0 C605.0,245.0 609.0,242.9 615.0,241.0 C621.0,239.1 633.0,234.8 640.0,232.0 C647.0,229.2 657.5,224.4 662.0,222.5 C666.5,220.6 667.6,220.4 670.0,219.0 C672.4,217.6 675.8,215.7 678.3,213.3 C680.8,210.9 684.8,206.0 686.7,203.3 C688.6,200.6 690.0,197.7 690.8,195.0 C691.5,192.3 691.7,188.4 691.7,185.0 C691.7,181.6 691.5,176.2 691.0,172.0 C690.5,167.8 689.7,161.1 688.5,157.0 C687.3,152.9 684.9,148.4 683.0,145.0 C681.1,141.6 678.5,137.8 676.0,134.5 C673.5,131.2 668.5,126.5 666.0,123.0 C663.5,119.5 660.6,114.5 659.0,111.0 C657.4,107.5 655.8,103.2 655.0,100.0 C654.2,96.8 654.3,92.0 654.0,90.0 C653.7,88.0 653.0,89.3 653.0,86.7 C653.0,84.1 652.8,76.9 654.0,72.7 C655.2,68.5 659.0,62.9 661.0,58.7 C663.0,54.5 666.0,48.4 667.0,45.0 C668.0,41.6 687.0,37.4 668.0,36.0 C649.0,34.6 559.2,34.6 540.0,36.0Z" fill="#00FFFF"/>
<path d="M556.0,36.0 C541.8,37.4 556.3,41.2 557.0,45.0 C557.7,48.8 559.7,57.2 560.7,61.0 C561.8,64.8 563.7,67.6 564.0,70.0 C564.3,72.4 565.0,75.2 563.0,77.0 C561.0,78.8 555.2,81.1 551.0,82.0 C546.8,82.9 539.6,82.4 535.0,83.0 C530.4,83.6 525.2,85.0 520.0,86.0 C514.8,87.0 506.0,89.0 500.0,90.0 C494.0,91.0 486.0,92.4 480.0,93.0 C474.0,93.6 466.0,93.5 460.0,94.0 C454.0,94.5 444.9,95.0 440.0,96.0 C435.1,97.0 430.1,98.9 427.0,101.0 C423.9,103.1 419.8,107.2 419.0,110.0 C418.2,112.8 420.4,116.7 422.0,120.0 C423.6,123.3 426.6,128.2 430.0,132.0 C433.4,135.8 440.5,141.6 445.0,145.0 C449.5,148.4 455.5,151.8 460.0,155.0 C464.5,158.2 470.5,163.0 475.0,166.0 C479.5,169.0 486.2,173.5 490.0,175.0 C493.8,176.5 496.2,174.9 500.0,176.0 C503.8,177.1 510.2,180.0 515.0,182.5 C519.8,185.0 526.8,189.1 532.0,192.5 C537.2,195.9 544.3,201.2 550.0,205.0 C555.7,208.8 565.2,214.5 570.0,217.5 C574.8,220.5 577.5,223.1 582.0,225.0 C586.5,226.9 594.3,229.8 600.0,230.0 C605.7,230.2 614.0,227.8 620.0,226.0 C626.0,224.2 634.8,220.4 640.0,218.0 C645.2,215.6 650.5,212.7 655.0,210.0 C659.5,207.3 667.1,203.0 670.0,200.0 C672.9,197.0 673.4,193.8 674.0,190.0 C674.6,186.2 674.0,178.4 674.0,175.0 C674.0,171.6 674.6,169.6 674.0,167.0 C673.4,164.4 671.6,161.2 670.0,158.0 C668.4,154.8 665.0,149.6 663.0,146.0 C661.0,142.4 658.7,137.8 656.7,134.0 C654.8,130.2 651.6,124.3 650.0,120.7 C648.4,117.1 647.4,113.4 646.0,110.0 C644.6,106.6 642.5,101.0 640.7,98.0 C638.9,95.0 636.4,92.2 634.0,90.0 C631.6,87.8 627.1,85.4 625.0,83.0 C622.9,80.6 619.5,77.0 620.0,74.0 C620.5,71.0 624.7,66.0 628.0,63.0 C631.3,60.0 638.6,56.7 642.0,54.0 C645.4,51.3 649.0,47.7 650.5,45.0 C652.0,42.3 666.2,37.4 652.0,36.0 C637.8,34.6 570.2,34.6 556.0,36.0Z" fill="#00AAFF"/>
<path d="M575.0,36.0 C566.3,37.4 575.2,42.0 576.0,45.0 C576.8,48.0 578.5,52.5 580.0,56.0 C581.5,59.5 584.7,64.8 586.0,68.0 C587.3,71.2 588.7,74.4 588.7,77.0 C588.7,79.6 587.8,83.5 586.0,85.5 C584.2,87.5 580.1,88.9 577.0,90.0 C573.9,91.1 570.5,91.8 565.0,93.0 C559.5,94.2 548.2,97.0 540.0,98.0 C531.8,99.0 519.0,99.5 510.0,100.0 C501.0,100.5 486.8,100.3 480.0,101.0 C473.2,101.7 468.8,103.2 465.0,104.5 C461.2,105.8 456.2,107.7 455.0,110.0 C453.8,112.3 455.9,117.0 457.0,120.0 C458.1,123.0 459.3,127.0 462.0,130.0 C464.7,133.0 471.2,136.7 475.0,140.0 C478.8,143.3 483.7,148.2 487.0,152.0 C490.3,155.8 493.2,161.6 497.0,165.0 C500.8,168.4 507.8,173.1 512.0,175.0 C516.2,176.9 520.0,175.8 525.0,177.5 C530.0,179.2 539.0,183.0 545.0,186.0 C551.0,189.0 559.5,194.3 565.0,197.5 C570.5,200.7 576.8,204.9 582.0,207.5 C587.2,210.1 594.3,214.3 600.0,215.0 C605.7,215.7 614.0,213.9 620.0,212.0 C626.0,210.1 635.5,205.4 640.0,202.5 C644.5,199.6 648.0,195.9 650.0,192.5 C652.0,189.1 652.5,184.4 653.0,180.0 C653.5,175.6 653.6,167.3 653.0,163.0 C652.4,158.7 650.0,153.4 649.0,151.0 C648.0,148.6 647.2,149.7 646.0,147.0 C644.8,144.3 642.1,136.9 640.7,132.7 C639.3,128.5 637.7,122.4 636.7,119.0 C635.7,115.6 635.0,112.2 634.0,110.0 C633.0,107.8 632.6,105.2 630.0,104.0 C627.4,102.8 620.3,102.9 616.7,102.0 C613.1,101.1 608.7,99.8 606.0,98.0 C603.3,96.2 600.4,92.4 599.0,90.0 C597.6,87.6 597.1,84.6 597.0,82.0 C596.9,79.4 596.5,75.7 598.0,72.7 C599.5,69.7 603.5,64.8 607.0,62.0 C610.5,59.2 617.2,56.5 621.0,54.0 C624.8,51.5 630.0,47.7 632.0,45.0 C634.0,42.3 642.5,37.4 634.0,36.0 C625.5,34.6 583.7,34.6 575.0,36.0Z" fill="#0055FF"/>
<path d="M503.5,113.0 C504.4,109.5 508.8,108.0 511.7,107.0 C514.6,106.0 519.5,106.3 523.0,106.5 C526.5,106.7 529.8,107.2 535.0,108.0 C540.2,108.8 549.3,110.3 558.0,111.7 C566.7,113.1 584.6,115.8 593.0,117.5 C601.4,119.2 609.4,120.7 614.0,123.0 C618.6,125.3 621.2,129.1 623.7,132.7 C626.2,136.3 629.2,142.5 630.7,146.7 C632.2,150.9 633.7,156.2 634.0,160.7 C634.3,165.2 634.2,172.5 633.0,177.0 C631.8,181.5 628.4,187.6 626.0,191.0 C623.6,194.4 620.2,197.6 616.7,200.0 C613.2,202.4 606.6,205.9 602.7,207.0 C598.8,208.1 594.9,208.1 591.0,207.0 C587.1,205.9 582.0,202.6 577.0,200.0 C572.0,197.4 563.2,192.6 558.0,190.0 C552.8,187.4 547.2,185.7 542.0,183.0 C536.8,180.3 527.5,175.0 523.0,172.0 C518.5,169.0 514.1,166.8 511.7,163.0 C509.3,159.2 507.9,151.6 507.0,146.7 C506.1,141.8 506.5,135.1 506.0,130.0 C505.5,124.9 502.6,116.5 503.5,113.0Z" fill="#0000FF"/>
<path d="M535.0,160.7 C535.6,159.3 542.3,150.9 544.0,149.0 C545.7,147.1 553.9,138.0 556.0,137.0 C558.1,136.0 567.3,135.3 570.0,136.0 C572.7,136.7 586.8,144.4 590.0,146.0 C593.2,147.6 608.2,154.1 609.7,156.0 C611.2,157.9 609.1,167.8 608.5,170.0 C607.9,172.2 603.9,182.0 602.7,184.0 C601.5,186.0 594.9,194.3 593.0,194.5 C591.1,194.7 581.4,187.3 579.0,186.0 C576.6,184.7 565.6,179.1 563.0,178.0 C560.4,176.9 548.9,172.9 546.7,172.0 C544.5,171.1 536.9,167.4 536.0,166.5 C535.1,165.6 534.4,162.1 535.0,160.7Z" fill="#0000AA"/>
<path d="M718.0,417.0 C716.3,397.9 711.5,416.4 706.5,415.0 C701.5,413.6 690.5,409.8 685.0,407.5 C679.5,405.2 674.5,401.6 670.0,400.0 C665.5,398.4 659.5,397.4 655.0,397.0 C650.5,396.6 643.8,396.7 640.0,397.5 C636.2,398.3 631.9,400.6 630.0,402.5 C628.1,404.4 628.2,406.2 627.5,410.0 C626.8,413.8 624.6,421.9 625.0,427.5 C625.4,433.1 628.4,442.6 630.0,447.5 C631.6,452.4 634.1,456.2 636.0,460.0 C637.9,463.8 640.4,468.4 642.5,472.5 C644.6,476.6 648.5,483.4 650.0,487.5 C651.5,491.6 652.5,496.2 652.5,500.0 C652.5,503.8 651.1,508.8 650.0,512.5 C648.9,516.2 645.9,520.6 645.0,525.0 C644.1,529.4 633.0,539.5 644.0,542.0 C655.0,544.5 706.9,560.8 718.0,542.0 C729.1,523.2 719.7,436.1 718.0,417.0Z" fill="#00FFFF"/>
<path d="M718.0,428.0 C716.3,410.8 710.7,427.4 706.5,427.0 C702.3,426.6 695.1,425.4 690.0,425.0 C684.9,424.6 677.0,423.7 672.5,424.0 C668.0,424.3 663.4,425.2 660.0,427.0 C656.6,428.8 651.5,432.6 650.0,436.0 C648.5,439.4 649.2,445.6 650.0,450.0 C650.8,454.4 653.5,460.1 655.0,465.0 C656.5,469.9 658.9,477.6 660.0,482.5 C661.1,487.4 662.5,493.0 662.5,497.5 C662.5,502.0 661.3,508.4 660.0,512.5 C658.7,516.6 655.4,520.6 654.0,525.0 C652.6,529.4 641.4,539.5 651.0,542.0 C660.6,544.5 708.0,559.1 718.0,542.0 C728.0,524.9 719.7,445.2 718.0,428.0Z" fill="#00AAFF"/>
<path d="M718.0,447.0 C716.3,441.3 709.6,448.6 706.5,449.0 C703.4,449.4 699.8,448.9 697.5,450.0 C695.2,451.1 692.1,453.4 691.0,456.0 C689.9,458.6 689.4,464.5 690.0,467.5 C690.6,470.5 692.5,473.8 695.0,476.0 C697.5,478.2 703.0,480.9 706.5,482.5 C710.0,484.1 716.3,492.3 718.0,487.0 C719.7,481.7 719.7,452.7 718.0,447.0Z" fill="#0055FF"/>
<path d="M662.0,542.0 C658.2,540.6 661.9,535.9 662.5,533.0 C663.1,530.1 664.1,524.9 666.0,522.5 C667.9,520.1 672.5,517.0 675.0,517.0 C677.5,517.0 680.6,520.1 682.5,522.5 C684.4,524.9 686.7,530.1 687.5,533.0 C688.3,535.9 691.8,540.6 688.0,542.0 C684.2,543.4 665.8,543.4 662.0,542.0Z" fill="#0055FF"/>
<ellipse cx="672.0" cy="444.0" rx="5.0" ry="2.0" fill="#0055FF" transform="rotate(25 672.0 444.0)"/>
<path d="M213.0,472.3 C213.0,471.7 215.1,468.2 215.6,468.2 C216.1,468.2 218.2,471.7 218.2,472.3 C218.2,472.9 216.1,474.6 215.6,474.6 C215.1,474.6 213.0,472.9 213.0,472.3Z" fill="#00FFFF"/>
<path d="M249.5,228.0 C249.5,228.0 253.0,226.3 253.0,226.3 C253.0,226.3 256.5,228.0 256.5,228.0 C256.5,228.0 253.0,229.7 253.0,229.7 C253.0,229.7 249.5,228.0 249.5,228.0Z" fill="#00FFFF"/>
<path d="M718.0,196.0 C719.7,224.2 719.7,360.9 718.0,390.0 C716.3,419.1 710.7,391.4 706.5,390.0 C702.3,388.6 694.7,384.0 690.0,381.0 C685.3,378.0 679.1,373.0 675.0,370.0 C670.9,367.0 666.5,363.7 662.5,361.0 C658.5,358.3 652.1,354.4 648.0,352.0 C643.9,349.6 638.5,345.7 635.0,345.0 C631.5,344.3 627.2,345.2 625.0,347.5 C622.8,349.8 620.8,356.2 620.0,360.0 C619.2,363.8 620.4,368.8 620.0,372.5 C619.6,376.2 619.0,380.9 617.5,385.0 C616.0,389.1 611.9,395.5 610.0,400.0 C608.1,404.5 605.9,410.1 605.0,415.0 C604.1,419.9 603.2,427.2 604.0,432.5 C604.8,437.8 607.6,445.1 610.0,450.0 C612.4,454.9 617.0,461.2 620.0,465.0 C623.0,468.8 627.4,471.6 630.0,475.0 C632.6,478.4 635.6,483.8 637.5,487.5 C639.4,491.2 642.0,496.6 642.5,500.0 C643.0,503.4 642.0,506.6 641.0,510.0 C640.0,513.4 637.3,519.0 636.0,522.5 C634.7,526.0 633.1,529.6 632.5,533.0 C631.9,536.4 701.8,543.2 632.0,545.0 C562.2,546.8 236.7,546.9 167.0,545.0 C97.3,543.1 169.3,535.1 167.5,532.5 C165.7,529.9 159.1,528.8 155.0,527.5 C150.9,526.2 144.5,525.1 140.0,524.0 C135.5,522.9 128.8,521.7 125.0,520.0 C121.2,518.3 117.2,515.5 115.0,512.5 C112.8,509.5 111.9,503.4 110.0,500.0 C108.1,496.6 105.8,493.3 102.5,490.0 C99.2,486.7 90.2,481.9 88.0,478.0 C85.8,474.1 85.8,466.7 88.0,464.0 C90.2,461.3 97.7,461.5 102.5,460.0 C107.3,458.5 115.0,455.5 120.0,454.0 C125.0,452.5 131.8,450.3 136.0,450.3 C140.2,450.3 142.9,451.8 148.0,454.0 C153.1,456.2 163.2,460.8 170.0,465.0 C176.8,469.2 188.1,477.4 193.3,482.3 C198.6,487.2 202.1,493.7 205.0,497.5 C207.9,501.3 210.2,504.9 212.5,507.5 C214.8,510.1 217.0,513.5 220.0,515.0 C223.0,516.5 228.4,517.4 232.5,517.5 C236.6,517.6 244.0,517.5 247.5,516.0 C251.0,514.5 254.6,511.0 256.0,507.5 C257.4,504.0 257.0,497.4 257.0,492.5 C257.0,487.6 257.1,479.9 256.0,475.0 C254.9,470.1 252.4,464.4 250.0,460.0 C247.6,455.6 243.4,449.9 240.0,446.0 C236.6,442.1 231.2,436.8 227.5,434.0 C223.8,431.2 219.1,428.7 215.0,427.5 C210.9,426.3 204.9,426.0 200.0,426.0 C195.1,426.0 187.0,427.8 182.5,427.5 C178.0,427.2 173.0,425.9 170.0,424.0 C167.0,422.1 163.1,418.6 162.5,415.0 C161.9,411.4 164.1,404.8 166.0,400.0 C167.9,395.2 172.3,388.2 175.0,383.0 C177.7,377.8 181.4,368.6 184.0,365.0 C186.6,361.4 189.8,361.6 192.5,359.0 C195.2,356.4 201.0,352.2 202.0,347.5 C203.0,342.8 200.1,332.2 199.0,327.5 C197.9,322.8 196.3,319.0 195.0,316.0 C193.7,313.0 191.7,310.3 190.0,307.5 C188.3,304.7 185.2,300.5 184.0,297.5 C182.8,294.5 181.6,290.0 182.0,287.5 C182.4,285.0 184.3,283.2 187.0,281.0 C189.7,278.8 195.8,275.3 200.0,272.5 C204.2,269.7 210.9,265.1 215.0,262.5 C219.1,259.9 222.5,257.2 227.0,255.0 C231.5,252.8 239.3,249.2 245.0,247.5 C250.7,245.8 258.2,244.8 265.0,244.0 C271.8,243.2 283.7,242.5 290.0,242.0 C296.3,241.5 303.2,240.9 307.0,240.5 C310.8,240.1 312.1,239.3 315.0,239.0 C317.9,238.7 322.7,238.9 326.0,238.5 C329.3,238.1 332.8,237.7 337.0,236.0 C341.2,234.3 351.4,229.2 353.7,227.3 C356.0,225.4 355.0,224.8 352.5,223.0 C350.0,221.2 341.9,216.3 337.0,215.0 C332.1,213.7 323.3,214.4 320.0,214.0 C316.7,213.6 319.5,212.9 315.0,212.5 C310.5,212.1 296.8,211.5 290.0,211.0 C283.2,210.5 275.7,210.1 270.0,209.0 C264.3,207.9 256.5,205.7 252.0,204.0 C247.5,202.3 243.3,200.0 240.0,197.5 C236.7,195.0 233.0,190.1 230.0,187.5 C227.0,184.9 222.7,182.6 220.0,180.0 C217.3,177.4 214.2,173.4 212.0,170.0 C209.8,166.6 206.7,160.8 205.0,157.0 C203.3,153.2 201.4,148.3 201.0,145.0 C200.6,141.7 201.1,138.0 202.0,135.0 C202.9,132.0 203.6,128.8 207.0,125.0 C210.4,121.2 220.1,114.1 225.0,110.0 C229.9,105.9 233.2,100.0 240.0,97.5 C246.8,95.0 260.7,94.3 270.0,93.0 C279.3,91.7 295.2,90.0 302.0,89.0 C308.8,88.0 310.8,87.0 315.0,86.0 C319.2,85.0 326.2,82.0 330.0,82.5 C333.8,83.0 337.4,86.4 340.0,89.0 C342.6,91.6 345.4,95.8 347.0,100.0 C348.6,104.2 349.8,111.8 351.0,117.0 C352.2,122.2 353.8,129.8 355.0,135.0 C356.2,140.2 357.9,147.1 359.0,152.0 C360.1,156.9 360.5,163.3 362.5,167.5 C364.5,171.7 369.1,176.6 372.5,180.0 C375.9,183.4 382.0,187.2 385.0,190.0 C388.0,192.8 392.9,196.0 392.5,199.0 C392.1,202.0 385.3,206.5 382.5,210.0 C379.7,213.5 374.8,219.5 374.0,222.5 C373.2,225.5 375.1,227.8 377.5,230.0 C379.9,232.2 386.4,235.5 390.0,237.5 C393.6,239.5 396.9,243.7 401.7,243.5 C406.5,243.3 415.7,238.7 422.0,236.5 C428.3,234.3 440.3,230.7 443.4,229.0 C446.5,227.3 445.0,227.2 442.5,225.5 C440.0,223.8 431.5,220.4 427.0,217.5 C422.5,214.6 415.5,208.8 412.5,206.0 C409.5,203.2 406.9,201.2 407.3,198.7 C407.7,196.1 411.6,191.6 415.0,189.0 C418.4,186.4 425.2,182.8 430.0,181.5 C434.8,180.2 441.8,179.6 447.0,180.0 C452.2,180.4 460.1,182.5 465.0,184.0 C469.9,185.5 475.9,188.2 480.0,190.0 C484.1,191.8 487.5,193.9 492.0,196.0 C496.5,198.1 505.8,202.3 510.0,204.0 C514.2,205.7 517.8,205.8 520.0,207.5 C522.2,209.2 523.2,212.0 525.0,215.0 C526.8,218.0 529.5,223.4 532.0,227.5 C534.5,231.6 540.0,238.4 542.0,242.5 C544.0,246.6 543.8,252.2 545.0,255.0 C546.2,257.8 547.8,259.6 550.0,261.0 C552.2,262.4 553.2,263.9 560.0,264.0 C566.8,264.1 584.2,263.2 595.0,262.0 C605.8,260.8 623.8,257.9 632.0,256.0 C640.2,254.1 644.8,251.4 650.0,249.0 C655.2,246.6 662.0,242.8 667.0,240.0 C672.0,237.2 679.6,233.0 683.3,230.0 C687.0,227.0 689.2,223.0 691.7,220.0 C694.2,217.0 697.8,212.7 700.0,210.0 C702.2,207.3 703.8,203.8 706.5,201.7 C709.2,199.6 716.3,167.8 718.0,196.0Z" fill="#AAFF55"/>
<path d="M387.0,36.0 C366.7,37.4 386.7,42.8 387.5,45.0 C388.3,47.2 389.9,49.4 392.5,51.0 C395.1,52.6 400.5,55.1 405.0,56.0 C409.5,56.9 417.6,57.1 422.5,57.0 C427.4,56.9 430.4,55.0 437.5,55.0 C444.6,55.0 459.9,56.6 470.0,57.0 C480.1,57.4 498.2,58.0 505.0,57.5 C511.8,57.0 512.5,55.9 515.0,54.0 C517.5,52.1 520.8,47.7 522.0,45.0 C523.2,42.3 543.2,37.4 523.0,36.0 C502.8,34.6 407.3,34.6 387.0,36.0Z" fill="#AAFF55"/>
<path d="M679.0,36.0 C673.3,37.4 680.0,41.0 679.7,45.0 C679.4,49.0 677.6,58.2 677.0,63.0 C676.4,67.8 676.5,73.1 676.0,77.0 C675.5,80.9 674.5,85.5 674.0,89.0 C673.5,92.5 672.1,96.1 673.0,100.0 C673.9,103.9 677.5,110.5 680.0,115.0 C682.5,119.5 686.7,125.6 690.0,130.0 C693.3,134.4 699.6,140.4 701.7,144.2 C703.8,147.9 703.6,151.9 704.2,155.0 C704.8,158.1 705.5,162.7 705.8,165.0 C706.1,167.3 705.6,168.8 706.5,170.5 C707.4,172.2 710.3,175.2 712.0,176.0 C713.7,176.8 717.1,197.0 718.0,176.0 C718.9,155.0 723.9,57.0 718.0,36.0 C712.1,15.0 684.7,34.6 679.0,36.0Z" fill="#AAFF55"/>
<ellipse cx="252.0" cy="382.0" rx="3.6" ry="3.6" fill="#55FFAA" transform="rotate(0 252.0 382.0)"/>
<path d="M231.0,137.5 C232.1,135.2 236.8,130.7 240.0,127.5 C243.2,124.3 248.8,117.9 252.5,116.0 C256.2,114.1 260.9,114.5 265.0,115.0 C269.1,115.5 275.5,117.5 280.0,119.0 C284.5,120.5 291.2,122.6 295.0,125.0 C298.8,127.4 302.8,131.6 305.0,135.0 C307.2,138.4 308.8,143.8 309.5,147.5 C310.2,151.2 310.2,156.2 309.5,160.0 C308.8,163.8 307.2,169.6 305.0,172.5 C302.8,175.4 298.0,178.8 295.0,179.5 C292.0,180.2 288.8,178.9 285.0,177.5 C281.2,176.1 274.5,172.6 270.0,170.0 C265.5,167.4 259.5,163.0 255.0,160.0 C250.5,157.0 243.4,152.6 240.0,150.0 C236.6,147.4 233.8,144.4 232.5,142.5 C231.2,140.6 229.9,139.8 231.0,137.5Z" fill="#FFFF00"/>
<path d="M692.0,36.0 C688.2,37.4 692.0,41.6 692.5,45.0 C693.0,48.4 694.2,55.0 695.0,58.7 C695.8,62.5 696.8,66.8 698.0,70.0 C699.2,73.2 701.7,77.4 703.0,79.7 C704.3,82.0 704.5,83.2 706.7,85.5 C709.0,87.8 716.3,102.4 718.0,95.0 C719.7,87.6 721.9,44.9 718.0,36.0 C714.1,27.1 695.8,34.6 692.0,36.0Z" fill="#FFFF00"/>
<path d="M718.0,230.0 C716.3,222.3 709.6,234.9 706.5,237.5 C703.4,240.1 700.7,243.8 697.5,247.5 C694.3,251.2 686.5,258.4 685.0,262.5 C683.5,266.6 685.6,272.0 687.5,275.0 C689.4,278.0 694.6,280.9 697.5,282.5 C700.4,284.1 703.4,285.0 706.5,286.0 C709.6,287.0 716.3,297.4 718.0,289.0 C719.7,280.6 719.7,237.7 718.0,230.0Z" fill="#FFFF00"/>
<ellipse cx="212.0" cy="385.0" rx="9.0" ry="10.5" fill="#FFFF00" transform="rotate(0 212.0 385.0)"/>
<ellipse cx="140.0" cy="475.0" rx="5.7" ry="5.5" fill="#FFFF00" transform="rotate(0 140.0 475.0)"/>
<path d="M335.0,545.0 C292.4,543.1 336.2,535.5 335.0,532.5 C333.8,529.5 329.7,526.5 327.0,525.0 C324.3,523.5 320.0,522.6 317.0,522.5 C314.0,522.4 310.3,524.0 307.0,524.0 C303.7,524.0 298.1,524.6 295.0,522.5 C291.9,520.4 287.1,514.1 286.0,510.0 C284.9,505.9 286.9,499.9 287.5,495.0 C288.1,490.1 290.4,482.6 290.0,477.5 C289.6,472.4 287.6,465.3 285.0,461.0 C282.4,456.7 275.5,452.9 272.5,449.0 C269.5,445.1 266.0,439.4 265.0,435.0 C264.0,430.6 265.6,424.5 266.0,420.0 C266.4,415.5 267.4,409.8 268.0,405.0 C268.6,400.2 270.1,392.2 270.0,388.0 C269.9,383.8 268.1,379.9 267.0,377.0 C265.9,374.1 265.1,371.1 262.5,369.0 C259.9,366.9 253.8,364.6 250.0,363.0 C246.2,361.4 240.7,360.2 237.5,358.0 C234.3,355.8 230.7,351.4 229.0,348.0 C227.3,344.6 227.0,339.2 226.0,335.0 C225.0,330.8 223.8,324.8 222.5,320.0 C221.2,315.2 219.2,306.7 217.5,303.0 C215.8,299.3 212.8,297.7 211.5,295.5 C210.2,293.3 206.9,290.6 208.5,288.5 C210.1,286.4 216.7,283.8 222.0,281.5 C227.3,279.2 238.0,275.8 244.0,273.5 C250.0,271.2 255.8,268.0 262.0,266.0 C268.1,264.0 279.3,260.8 285.0,260.0 C290.7,259.2 295.5,260.1 300.0,261.0 C304.5,261.9 310.5,264.5 315.0,266.0 C319.5,267.5 326.2,271.1 330.0,271.0 C333.8,270.9 337.0,267.0 340.0,265.0 C343.0,263.0 346.6,259.4 350.0,257.5 C353.4,255.6 358.8,252.9 362.5,252.5 C366.2,252.1 371.6,253.5 375.0,255.0 C378.4,256.5 382.0,259.9 385.0,262.5 C388.0,265.1 391.6,269.9 395.0,272.5 C398.4,275.1 403.8,278.3 407.5,280.0 C411.2,281.7 415.9,282.6 420.0,284.0 C424.1,285.4 431.2,288.1 435.0,289.0 C438.8,289.9 442.4,290.9 445.0,290.0 C447.6,289.1 450.1,284.9 452.0,283.0 C453.9,281.1 456.1,279.2 458.0,277.0 C459.9,274.8 462.9,271.1 465.0,268.3 C467.1,265.5 470.1,262.1 471.7,258.3 C473.3,254.5 475.0,246.5 476.0,243.0 C477.0,239.5 478.3,238.3 478.3,235.0 C478.3,231.7 477.6,224.6 475.8,220.8 C474.0,217.1 468.9,213.0 466.0,210.0 C463.1,207.0 456.6,202.9 456.7,200.8 C456.8,198.7 462.6,196.9 466.7,196.0 C470.8,195.1 480.6,194.1 484.0,194.7 C487.4,195.3 488.2,198.2 489.3,200.0 C490.4,201.8 490.7,204.9 491.3,206.7 C491.9,208.5 492.0,210.4 493.3,212.0 C494.6,213.6 496.4,215.9 500.0,217.3 C503.6,218.7 513.9,220.1 517.3,221.3 C520.7,222.5 521.6,223.7 522.7,225.3 C523.8,226.9 524.7,229.8 524.7,232.0 C524.7,234.2 524.2,237.2 522.7,240.0 C521.2,242.8 516.9,248.3 514.7,250.7 C512.5,253.1 509.1,254.6 508.0,256.0 C506.9,257.4 506.4,258.6 507.5,260.0 C508.6,261.4 511.6,263.1 515.0,265.0 C518.4,266.9 525.1,270.2 530.0,272.5 C534.9,274.8 543.0,278.5 547.5,280.0 C552.0,281.5 552.9,282.5 560.0,282.5 C567.1,282.5 583.0,279.5 595.0,280.0 C607.0,280.5 626.5,283.8 640.0,286.0 C653.5,288.2 676.4,292.5 685.0,295.0 C693.6,297.5 695.1,299.5 697.5,302.5 C699.9,305.5 700.6,312.5 701.0,315.0 C701.4,317.5 701.6,316.9 700.0,319.0 C698.4,321.1 693.8,326.6 690.0,329.0 C686.2,331.4 679.5,334.5 675.0,335.0 C670.5,335.5 664.5,333.6 660.0,332.5 C655.5,331.4 649.9,328.6 645.0,327.5 C640.1,326.4 632.4,324.8 627.5,325.0 C622.6,325.2 615.7,326.8 612.5,329.0 C609.3,331.2 607.3,336.1 606.0,340.0 C604.7,343.9 604.3,349.8 604.0,355.0 C603.7,360.2 605.0,370.1 604.0,375.0 C603.0,379.9 599.3,384.4 597.5,387.5 C595.7,390.6 593.5,394.0 592.0,396.0 C590.5,398.0 588.4,397.9 587.6,401.0 C586.8,404.1 586.6,411.1 586.7,417.0 C586.8,422.9 587.6,433.2 588.5,440.0 C589.4,446.8 591.0,457.2 593.0,462.5 C595.0,467.8 599.0,472.0 602.0,475.0 C605.0,478.0 610.0,480.4 613.0,482.5 C616.0,484.6 619.7,487.1 622.0,489.0 C624.3,490.9 626.9,493.5 628.5,495.5 C630.1,497.5 632.4,499.9 632.5,502.5 C632.6,505.1 630.5,509.5 629.0,512.5 C627.5,515.5 624.0,519.4 622.5,522.5 C621.0,525.6 619.5,529.6 619.0,533.0 C618.5,536.4 661.6,543.2 619.0,545.0 C576.4,546.8 377.6,546.9 335.0,545.0Z" fill="#FFFF00"/>
<path d="M295.0,472.5 C295.0,470.2 302.0,466.9 305.0,465.0 C308.0,463.1 312.0,460.8 315.0,460.0 C318.0,459.2 322.4,458.9 325.0,459.5 C327.6,460.1 331.0,462.3 332.5,464.0 C334.0,465.7 335.4,468.8 335.0,471.0 C334.6,473.2 332.2,477.4 330.0,479.0 C327.8,480.6 323.8,481.9 320.0,482.0 C316.2,482.1 308.8,481.4 305.0,480.0 C301.2,478.6 295.0,474.8 295.0,472.5Z" fill="#AAFF55"/>
<path d="M232.5,292.5 C233.8,290.2 238.8,285.1 242.5,282.5 C246.2,279.9 252.6,276.1 257.5,275.0 C262.4,273.9 269.8,274.4 275.0,275.0 C280.2,275.6 288.0,277.6 292.5,279.0 C297.0,280.4 302.4,282.4 305.0,284.0 C307.6,285.6 309.6,287.2 310.0,290.0 C310.4,292.8 309.8,299.6 307.5,302.5 C305.2,305.4 299.5,307.3 295.0,309.0 C290.5,310.7 282.4,312.7 277.5,314.0 C272.6,315.3 266.6,317.4 262.5,317.5 C258.4,317.6 253.4,316.9 250.0,315.0 C246.6,313.1 242.4,307.6 240.0,305.0 C237.6,302.4 235.1,299.4 234.0,297.5 C232.9,295.6 231.2,294.8 232.5,292.5Z" fill="#FFAA00"/>
<path d="M254.0,327.5 C256.1,325.1 260.8,324.5 265.0,324.0 C269.2,323.5 276.8,324.4 282.0,324.0 C287.2,323.6 294.8,322.0 300.0,321.0 C305.2,320.0 312.5,318.2 317.0,317.5 C321.5,316.8 326.6,316.4 330.0,316.0 C333.4,315.6 333.2,313.6 340.0,315.0 C346.8,316.4 367.9,321.2 375.0,325.0 C382.1,328.8 383.6,334.8 387.0,340.0 C390.4,345.2 395.6,355.9 397.5,360.0 C399.4,364.1 398.5,365.4 400.0,367.0 C401.5,368.6 404.1,370.7 407.5,371.0 C410.9,371.3 417.2,369.8 422.5,369.0 C427.8,368.2 436.9,367.0 442.5,366.0 C448.1,365.0 454.8,363.6 460.0,362.5 C465.2,361.4 473.0,359.0 477.5,359.0 C482.0,359.0 485.9,361.4 490.0,362.5 C494.1,363.6 500.5,365.5 505.0,366.0 C509.5,366.5 515.1,366.5 520.0,366.0 C524.9,365.5 533.0,363.1 537.5,362.5 C542.0,361.9 545.9,361.6 550.0,362.0 C554.1,362.4 561.2,363.4 565.0,365.0 C568.8,366.6 572.9,370.1 575.0,372.5 C577.1,374.9 579.4,378.4 579.0,381.0 C578.6,383.6 574.9,387.6 572.5,390.0 C570.1,392.4 564.7,395.1 563.0,397.0 C561.3,398.9 560.5,400.3 561.0,403.0 C561.5,405.7 564.6,411.6 566.0,415.0 C567.4,418.4 569.5,418.4 570.2,426.0 C571.0,433.6 570.7,459.3 571.0,466.0 C571.3,472.7 571.6,468.8 572.5,470.5 C573.4,472.2 575.0,475.4 577.0,477.5 C579.0,479.6 583.3,482.9 586.0,484.5 C588.7,486.1 591.8,486.9 595.0,488.5 C598.2,490.1 604.6,492.9 607.5,495.0 C610.4,497.1 613.5,499.9 614.0,502.5 C614.5,505.1 612.0,509.1 611.0,512.5 C610.0,515.9 608.0,521.9 607.5,525.0 C607.0,528.1 607.6,530.0 607.5,533.0 C607.4,536.0 644.6,543.2 607.0,545.0 C569.4,546.8 394.4,546.9 357.0,545.0 C319.6,543.1 358.2,535.9 357.5,532.5 C356.8,529.1 354.2,525.5 352.5,522.5 C350.8,519.5 347.5,515.5 346.0,512.5 C344.5,509.5 342.3,504.8 342.5,502.5 C342.7,500.2 345.0,500.9 347.5,497.5 C350.0,494.1 356.8,485.2 359.0,480.0 C361.2,474.8 362.5,467.8 362.5,462.5 C362.5,457.2 361.2,449.6 359.0,445.0 C356.8,440.4 351.2,435.8 348.0,432.0 C344.8,428.2 339.8,422.6 337.5,420.0 C335.2,417.4 335.1,416.9 332.5,415.0 C329.9,413.1 324.1,409.6 320.0,407.5 C315.9,405.4 308.4,402.1 305.0,401.0 C301.6,399.9 299.8,401.6 297.5,400.0 C295.2,398.4 292.2,393.8 290.0,390.0 C287.8,386.2 285.1,379.1 282.5,375.0 C279.9,370.9 275.9,365.5 272.5,362.5 C269.1,359.5 263.2,357.2 260.0,355.0 C256.8,352.8 252.3,349.8 251.0,347.5 C249.7,345.2 250.6,343.0 251.0,340.0 C251.4,337.0 251.9,329.9 254.0,327.5Z" fill="#FFAA00"/>
<path d="M446.7,320.0 C448.2,318.9 457.0,314.7 460.0,312.7 C463.0,310.7 469.3,305.7 472.0,303.3 C474.7,300.9 480.3,293.3 482.7,293.0 C485.1,292.7 490.5,298.5 492.0,300.7 C493.5,302.9 495.0,308.9 495.3,311.3 C495.6,313.7 495.0,318.8 494.7,320.7 C494.4,322.6 493.7,325.4 492.7,327.3 C491.7,329.2 488.4,334.9 486.7,336.7 C485.0,338.5 480.5,342.3 478.7,342.7 C476.9,343.1 473.9,341.1 472.0,340.0 C470.1,338.9 464.9,334.9 462.7,333.3 C460.5,331.7 455.1,328.1 453.3,326.7 C451.5,325.3 448.1,322.8 447.3,322.0 C446.5,321.2 445.2,321.1 446.7,320.0Z" fill="#FFAA00"/>
<path d="M449.0,545.0 C434.6,543.2 448.5,537.1 449.0,533.0 C449.5,528.9 451.8,522.5 452.5,517.5 C453.2,512.5 454.8,504.5 454.0,500.0 C453.2,495.5 450.0,491.6 447.5,487.5 C445.0,483.4 439.8,477.4 437.5,472.5 C435.2,467.6 433.5,459.1 432.5,455.0 C431.5,450.9 430.8,447.4 431.0,445.0 C431.2,442.6 432.5,440.4 434.0,439.0 C435.5,437.6 438.9,435.6 441.0,435.5 C443.1,435.4 445.9,436.7 448.0,438.0 C450.1,439.3 450.1,440.1 455.0,444.0 C459.9,447.9 473.2,457.8 481.0,463.8 C488.8,469.8 501.0,478.8 507.0,483.7 C513.0,488.6 517.5,493.0 521.0,496.5 C524.5,500.0 527.9,504.7 530.0,507.0 C532.1,509.3 533.4,509.7 535.0,512.0 C536.6,514.3 539.5,519.4 541.0,522.5 C542.5,525.6 544.4,529.6 545.0,533.0 C545.6,536.4 559.4,543.2 545.0,545.0 C530.6,546.8 463.4,546.8 449.0,545.0Z" fill="#FFFF00"/>
<path d="M485.0,545.0 C479.3,543.1 483.1,535.1 485.0,532.5 C486.9,529.9 493.4,528.6 497.5,527.5 C501.6,526.4 509.1,525.0 512.5,525.0 C515.9,525.0 518.5,526.4 520.0,527.5 C521.5,528.6 522.0,529.9 522.5,532.5 C523.0,535.1 528.6,543.1 523.0,545.0 C517.4,546.9 490.7,546.9 485.0,545.0Z" fill="#AAFF55"/>
<path d="M274.0,347.5 C275.4,345.2 280.4,341.9 285.0,340.0 C289.6,338.1 299.0,335.8 305.0,335.0 C311.0,334.2 319.8,334.4 325.0,335.0 C330.2,335.6 336.6,337.9 340.0,339.0 C343.4,340.1 344.5,340.9 347.5,342.5 C350.5,344.1 357.0,347.0 360.0,350.0 C363.0,353.0 365.2,358.4 367.5,362.5 C369.8,366.6 373.3,373.0 375.0,377.5 C376.7,382.0 377.9,388.0 379.0,392.5 C380.1,397.0 382.7,404.5 382.5,407.5 C382.3,410.5 379.4,411.5 377.5,412.5 C375.6,413.5 371.9,414.2 370.0,414.0 C368.1,413.8 367.2,413.1 365.0,411.0 C362.8,408.9 359.5,402.4 355.0,400.0 C350.5,397.6 340.2,396.1 335.0,395.0 C329.8,393.9 324.1,392.9 320.0,392.5 C315.9,392.1 310.9,394.0 307.5,392.5 C304.1,391.0 300.5,386.2 297.5,382.5 C294.5,378.8 290.7,371.6 287.5,367.5 C284.3,363.4 278.0,358.0 276.0,355.0 C274.0,352.0 272.6,349.8 274.0,347.5Z" fill="#FF5500"/>
<path d="M499.0,414.0 C499.5,410.8 503.4,408.9 506.0,407.5 C508.6,406.1 513.3,404.2 516.0,404.5 C518.7,404.8 521.8,406.6 524.0,409.5 C526.2,412.4 528.6,419.8 531.0,424.0 C533.4,428.2 538.3,434.4 540.0,437.5 C541.7,440.6 543.2,442.4 542.5,445.0 C541.8,447.6 537.6,452.4 535.0,455.0 C532.4,457.6 528.0,461.6 525.0,462.0 C522.0,462.4 517.6,460.6 515.0,458.0 C512.4,455.4 509.4,449.4 507.5,445.0 C505.6,440.6 503.8,433.6 502.5,429.0 C501.2,424.4 498.5,417.2 499.0,414.0Z" fill="#FF5500"/>
<path d="M384.0,502.5 C384.9,499.9 389.0,494.5 391.0,490.0 C393.0,485.5 395.6,476.1 397.5,472.5 C399.4,468.9 402.3,466.2 404.0,466.0 C405.7,465.8 407.9,466.6 409.0,471.0 C410.1,475.4 410.7,485.8 411.0,495.0 C411.3,504.2 411.0,525.0 411.0,532.5 C411.0,540.0 413.2,543.1 411.0,545.0 C408.8,546.9 398.2,546.9 396.0,545.0 C393.8,543.1 396.8,536.6 396.0,532.5 C395.2,528.4 392.6,521.2 391.0,517.5 C389.4,513.8 386.1,509.8 385.0,507.5 C383.9,505.2 383.1,505.1 384.0,502.5Z" fill="#FF5500"/>
<path d="M574.0,506.0 C574.4,505.1 593.0,500.9 594.0,501.0 C595.0,501.1 595.4,506.6 595.0,507.5 C594.6,508.4 587.0,519.6 586.0,519.5 C585.0,519.4 573.6,506.9 574.0,506.0Z" fill="#FF5500"/>
</g>
<path d="M656.3,44.0 L653.8,52.5 L655.0,57.5 L653.8,63.8 L656.3,68.8 L655.0,77.5 L653.8,83.8 L652.5,90.0 L650.0,97.5 L647.5,105.0 L645.0,113.8 L640.0,118.8 L632.5,122.5 L625.0,128.8 L617.5,133.8 L610.0,136.3 L602.5,140.0 L597.5,145.0 L590.0,151.3 L582.5,158.8 L572.5,165.0 L565.0,170.0 L555.0,177.5 L547.5,183.8 L544.0,186.7 L538.7,193.3 L530.7,197.3 L524.0,200.7 L522.7,206.7 L520.0,213.3 L518.0,218.7 L520.0,220.0 L518.7,222.7 L513.3,228.0 L508.0,233.3 L502.7,238.7 L498.7,242.7 L494.7,246.7 L493.3,250.7 L489.3,254.7 L484.0,258.0 L482.0,264.0 L481.3,270.0 L476.0,275.3 L470.0,280.0 L469.3,283.3 L464.0,288.7 L460.0,292.0 L456.0,296.7 L452.7,300.7 L448.0,305.3 L444.7,309.3 L446.0,310.0 L448.7,307.3 L452.0,306.0 L454.7,310.0 L456.0,315.3 L455.3,322.0 L452.0,326.7 L446.7,330.0 L440.0,332.7 L436.0,330.7 L434.7,332.7 L433.0,338.0 L430.0,344.0 L427.0,352.0 L426.0,360.0 L424.0,366.0 L421.0,372.0 L414.0,377.0 L409.0,382.0 L408.0,388.0 L405.0,394.0 L401.0,399.0 L400.0,403.0 L394.0,406.0 L388.0,408.0 L382.0,409.0 L379.0,406.0 L375.0,405.0 L371.0,408.0 L367.0,413.0 L361.0,417.0 L360.0,422.0 L357.0,428.0 L354.0,434.0 L351.0,432.0 L348.0,440.0 L345.0,450.0 L341.0,458.0 L335.0,462.0 L331.0,464.0 L333.0,470.0 L334.0,474.0 L330.0,479.0 L331.0,486.0 L330.0,494.0 L328.0,502.0 L327.0,510.0 L325.0,518.0 L324.0,526.0 L323.0,535.0" fill="none" stroke="#000" stroke-width="2" stroke-linejoin="round" stroke-linecap="round"/><path d="M524.0,200.7 L514.7,204.7 L506.7,209.3 L498.7,215.3 L493.3,221.3 L490.7,226.7 L486.7,233.3 L481.3,238.7 L478.7,241.3 L481.3,244.0 L484.0,240.7 L489.3,235.3 L493.3,229.3 L495.3,222.7 L500.0,217.3 L506.7,213.3 L512.0,210.0 L516.0,206.7 L524.0,200.7" fill="none" stroke="#000" stroke-width="1.7" stroke-linejoin="round" stroke-linecap="round"/><path d="M656.3,68.8 L651.0,74.0 L650.0,80.0 L652.5,90.0" fill="none" stroke="#000" stroke-width="0.9" stroke-linejoin="round" stroke-linecap="round"/><path d="M508.0,208.0 L510.0,211.0 L513.0,209.0 L511.0,212.0 L515.0,211.0 L513.0,214.0 L517.0,213.0" fill="none" stroke="#000" stroke-width="1.3" stroke-linejoin="round" stroke-linecap="round"/><polygon points="406.0,274.5 408.4,281.3 415.5,281.4 409.8,285.7 411.9,292.6 406.0,288.5 400.1,292.6 402.2,285.7 396.5,281.4 403.6,281.3" fill="#fff" stroke="#000" stroke-width="1.3"/><circle cx="329" cy="379.7" r="0.9"/><circle cx="177" cy="502.5" r="0.9"/><g class="lb"><text transform="translate(179.0 143.0) rotate(-67.6)" x="-38.8" y="6.7" textLength="77.5" lengthAdjust="spacingAndGlyphs">1019.8</text><text transform="translate(273.5 90.8) rotate(-10)" x="-27.9" y="6.7" textLength="55.8" lengthAdjust="spacingAndGlyphs">1020</text><text transform="translate(258.8 131.0) rotate(-34.5)" x="-38.8" y="6.7" textLength="77.5" lengthAdjust="spacingAndGlyphs">1020.2</text><text transform="translate(467.3 56.8) rotate(1)" x="-27.9" y="6.7" textLength="55.8" lengthAdjust="spacingAndGlyphs">1020</text><text transform="translate(437.7 83.0) rotate(-11)" x="-38.8" y="6.7" textLength="77.5" lengthAdjust="spacingAndGlyphs">1019.8</text><text transform="translate(482.0 90.6) rotate(-6)" x="-38.8" y="6.7" textLength="77.5" lengthAdjust="spacingAndGlyphs">1019.6</text><text transform="translate(524.4 97.0) rotate(-4)" x="-38.8" y="6.7" textLength="77.5" lengthAdjust="spacingAndGlyphs">1019.4</text><text transform="translate(598.7 127.3) rotate(30.5)" x="-38.8" y="6.7" textLength="77.5" lengthAdjust="spacingAndGlyphs">1019.2</text><text transform="translate(586.5 138.3) rotate(22.4)" x="-27.9" y="6.7" textLength="55.8" lengthAdjust="spacingAndGlyphs">1019</text><text transform="translate(688.5 115.5) rotate(62)" x="-27.9" y="6.7" textLength="55.8" lengthAdjust="spacingAndGlyphs">1020</text><text transform="translate(626.0 197.5) rotate(-38.5)" x="-38.8" y="6.7" textLength="77.5" lengthAdjust="spacingAndGlyphs">1019.4</text><text transform="translate(606.4 220.0) rotate(-2)" x="-38.8" y="6.7" textLength="77.5" lengthAdjust="spacingAndGlyphs">1019.6</text><text transform="translate(568.2 226.5) rotate(26.5)" x="-38.8" y="6.7" textLength="77.5" lengthAdjust="spacingAndGlyphs">1019.8</text><text transform="translate(595.0 260.3) rotate(-7)" x="-27.9" y="6.7" textLength="55.8" lengthAdjust="spacingAndGlyphs">1020</text><text transform="translate(637.6 295.5) rotate(9.5)" x="-38.8" y="6.7" textLength="77.5" lengthAdjust="spacingAndGlyphs">1020.2</text><text transform="translate(332.2 231.2) rotate(-41.5)" x="-27.9" y="6.7" textLength="55.8" lengthAdjust="spacingAndGlyphs">1020</text><text transform="translate(423.8 234.2) rotate(-52)" x="-27.9" y="6.7" textLength="55.8" lengthAdjust="spacingAndGlyphs">1020</text><text transform="translate(471.5 231.0) rotate(-78)" x="-38.8" y="6.7" textLength="77.5" lengthAdjust="spacingAndGlyphs">1020.2</text><text transform="translate(246.1 270.8) rotate(-22)" x="-38.8" y="6.7" textLength="77.5" lengthAdjust="spacingAndGlyphs">1020.2</text><text transform="translate(270.8 286.0) rotate(-1)" x="-38.8" y="6.7" textLength="77.5" lengthAdjust="spacingAndGlyphs">1020.4</text><text transform="translate(364.2 332.3) rotate(31.5)" x="-38.8" y="6.7" textLength="77.5" lengthAdjust="spacingAndGlyphs">1020.4</text><text transform="translate(296.5 363.5) rotate(75)" x="-38.8" y="6.7" textLength="77.5" lengthAdjust="spacingAndGlyphs">1020.6</text><text transform="translate(147.5 370.0) rotate(-67)" x="-38.8" y="6.7" textLength="77.5" lengthAdjust="spacingAndGlyphs">1019.8</text><text transform="translate(169.0 392.0) rotate(-72)" x="-27.9" y="6.7" textLength="55.8" lengthAdjust="spacingAndGlyphs">1020</text><text transform="translate(169.3 462.3) rotate(32.5)" x="-27.9" y="6.7" textLength="55.8" lengthAdjust="spacingAndGlyphs">1020</text><text transform="translate(350.0 455.5) rotate(82)" x="-38.8" y="6.7" textLength="77.5" lengthAdjust="spacingAndGlyphs">1020.4</text><text transform="translate(482.1 462.8) rotate(37.3)" x="-38.8" y="6.7" textLength="77.5" lengthAdjust="spacingAndGlyphs">1020.4</text><text transform="translate(571.0 429.3) rotate(-90)" x="-38.8" y="6.7" textLength="77.5" lengthAdjust="spacingAndGlyphs">1020.4</text><text transform="translate(593.6 438.0) rotate(81.5)" x="-38.8" y="6.7" textLength="77.5" lengthAdjust="spacingAndGlyphs">1020.2</text><text transform="translate(641.2 420.3) rotate(-57)" x="-38.8" y="6.7" textLength="77.5" lengthAdjust="spacingAndGlyphs">1019.8</text><text transform="translate(635.7 358.3) rotate(-17)" x="-27.9" y="6.7" textLength="55.8" lengthAdjust="spacingAndGlyphs">1020</text><text x="175.1" y="306" textLength="44.8" lengthAdjust="spacingAndGlyphs">CSA</text><text x="229.1" y="306" textLength="103.5" lengthAdjust="spacingAndGlyphs">(ONHYM)</text><text x="344.7" y="306" textLength="38.4" lengthAdjust="spacingAndGlyphs">PPL</text><text x="394.0" y="306" textLength="42.7" lengthAdjust="spacingAndGlyphs">EBS</text><text x="452.7" y="306" textLength="9.0" lengthAdjust="spacingAndGlyphs">-</text><text x="470.7" y="306" textLength="99.3" lengthAdjust="spacingAndGlyphs">Western</text><text x="576.7" y="306" textLength="76.6" lengthAdjust="spacingAndGlyphs">Sahara</text></g>
</g>
<rect x="102.5" y="45.5" width="604" height="487.8" fill="none" stroke="#262626" stroke-width="1"/>
<path d="M178.1,533.3 v-6 M178.1,45.5 v6 M253.6,533.3 v-6 M253.6,45.5 v6 M329.2,533.3 v-6 M329.2,45.5 v6 M404.7,533.3 v-6 M404.7,45.5 v6 M480.3,533.3 v-6 M480.3,45.5 v6 M555.9,533.3 v-6 M555.9,45.5 v6 M631.4,533.3 v-6 M631.4,45.5 v6 M102.5,76.1 h6 M706.5,76.1 h-6 M102.5,137.0 h6 M706.5,137.0 h-6 M102.5,197.9 h6 M706.5,197.9 h-6 M102.5,258.8 h6 M706.5,258.8 h-6 M102.5,319.7 h6 M706.5,319.7 h-6 M102.5,380.6 h6 M706.5,380.6 h-6 M102.5,441.5 h6 M706.5,441.5 h-6 M102.5,502.4 h6 M706.5,502.4 h-6" stroke="#262626" stroke-width="1" fill="none"/>
<g class="tk"><text x="76.4" y="563.3" textLength="52.3" lengthAdjust="spacingAndGlyphs">-18.5</text><text x="161.6" y="563.3" textLength="33.0" lengthAdjust="spacingAndGlyphs">-18</text><text x="227.5" y="563.3" textLength="52.3" lengthAdjust="spacingAndGlyphs">-17.5</text><text x="312.7" y="563.3" textLength="33.0" lengthAdjust="spacingAndGlyphs">-17</text><text x="378.6" y="563.3" textLength="52.3" lengthAdjust="spacingAndGlyphs">-16.5</text><text x="463.8" y="563.3" textLength="33.0" lengthAdjust="spacingAndGlyphs">-16</text><text x="529.7" y="563.3" textLength="52.3" lengthAdjust="spacingAndGlyphs">-15.5</text><text x="614.9" y="563.3" textLength="33.0" lengthAdjust="spacingAndGlyphs">-15</text><text x="680.9" y="563.3" textLength="52.3" lengthAdjust="spacingAndGlyphs">-14.5</text><text x="66.8" y="83.4" textLength="25.7" lengthAdjust="spacingAndGlyphs">25</text><text x="47.5" y="144.3" textLength="45.0" lengthAdjust="spacingAndGlyphs">24.5</text><text x="66.8" y="205.2" textLength="25.7" lengthAdjust="spacingAndGlyphs">24</text><text x="47.5" y="266.1" textLength="45.0" lengthAdjust="spacingAndGlyphs">23.5</text><text x="66.8" y="327.0" textLength="25.7" lengthAdjust="spacingAndGlyphs">23</text><text x="47.5" y="387.9" textLength="45.0" lengthAdjust="spacingAndGlyphs">22.5</text><text x="66.8" y="448.8" textLength="25.7" lengthAdjust="spacingAndGlyphs">22</text><text x="47.5" y="509.7" textLength="45.0" lengthAdjust="spacingAndGlyphs">21.5</text></g>
<text x="332" y="593.7" font-size="23" fill="#262626" textLength="143" lengthAdjust="spacingAndGlyphs">Longitude, E</text>
<text transform="translate(32.6 352.8) rotate(-90)" font-size="23" fill="#262626" textLength="125.5" lengthAdjust="spacingAndGlyphs">Latitude, N</text>
<text x="254.7" y="37.7" font-size="14.7" font-weight="bold" fill="#000" stroke="#000" stroke-width="0.25" textLength="298" lengthAdjust="spacingAndGlyphs">Valid for 24-Nov-2025 00:00:00 GMT</text>
<rect x="750.5" y="45.50" width="33" height="40.95" fill="#AA0000"/>
<rect x="750.5" y="86.15" width="33" height="40.95" fill="#FF0000"/>
<rect x="750.5" y="126.80" width="33" height="40.95" fill="#FF5500"/>
<rect x="750.5" y="167.45" width="33" height="40.95" fill="#FFAA00"/>
<rect x="750.5" y="208.10" width="33" height="40.95" fill="#FFFF00"/>
<rect x="750.5" y="248.75" width="33" height="40.95" fill="#AAFF55"/>
<rect x="750.5" y="289.40" width="33" height="40.95" fill="#55FFAA"/>
<rect x="750.5" y="330.05" width="33" height="40.95" fill="#00FFFF"/>
<rect x="750.5" y="370.70" width="33" height="40.95" fill="#00AAFF"/>
<rect x="750.5" y="411.35" width="33" height="40.95" fill="#0055FF"/>
<rect x="750.5" y="452.00" width="33" height="40.95" fill="#0000FF"/>
<rect x="750.5" y="492.65" width="33" height="40.95" fill="#0000AA"/>
<rect x="750.5" y="45.5" width="33" height="487.8" fill="none" stroke="#262626" stroke-width="1"/>
<text x="791.2" y="52.1" font-size="18.5" fill="#262626" textLength="46.4" lengthAdjust="spacingAndGlyphs">1021</text><path d="M783.5,156.5 h-5.5" stroke="#262626" stroke-width="1"/><text x="791.2" y="163.1" font-size="18.5" fill="#262626" textLength="63.8" lengthAdjust="spacingAndGlyphs">1020.5</text><path d="M783.5,267.5 h-5.5" stroke="#262626" stroke-width="1"/><text x="791.2" y="274.1" font-size="18.5" fill="#262626" textLength="46.4" lengthAdjust="spacingAndGlyphs">1020</text><path d="M783.5,378.5 h-5.5" stroke="#262626" stroke-width="1"/><text x="791.2" y="385.1" font-size="18.5" fill="#262626" textLength="63.8" lengthAdjust="spacingAndGlyphs">1019.5</text><path d="M783.5,489.5 h-5.5" stroke="#262626" stroke-width="1"/><text x="791.2" y="496.1" font-size="18.5" fill="#262626" textLength="46.4" lengthAdjust="spacingAndGlyphs">1019</text>
<text transform="translate(883.2 390.8) rotate(-90)" font-size="18.7" fill="#262626" textLength="200.6" lengthAdjust="spacingAndGlyphs">Surface Pressure, mb</text>
</svg>
</body></html>
